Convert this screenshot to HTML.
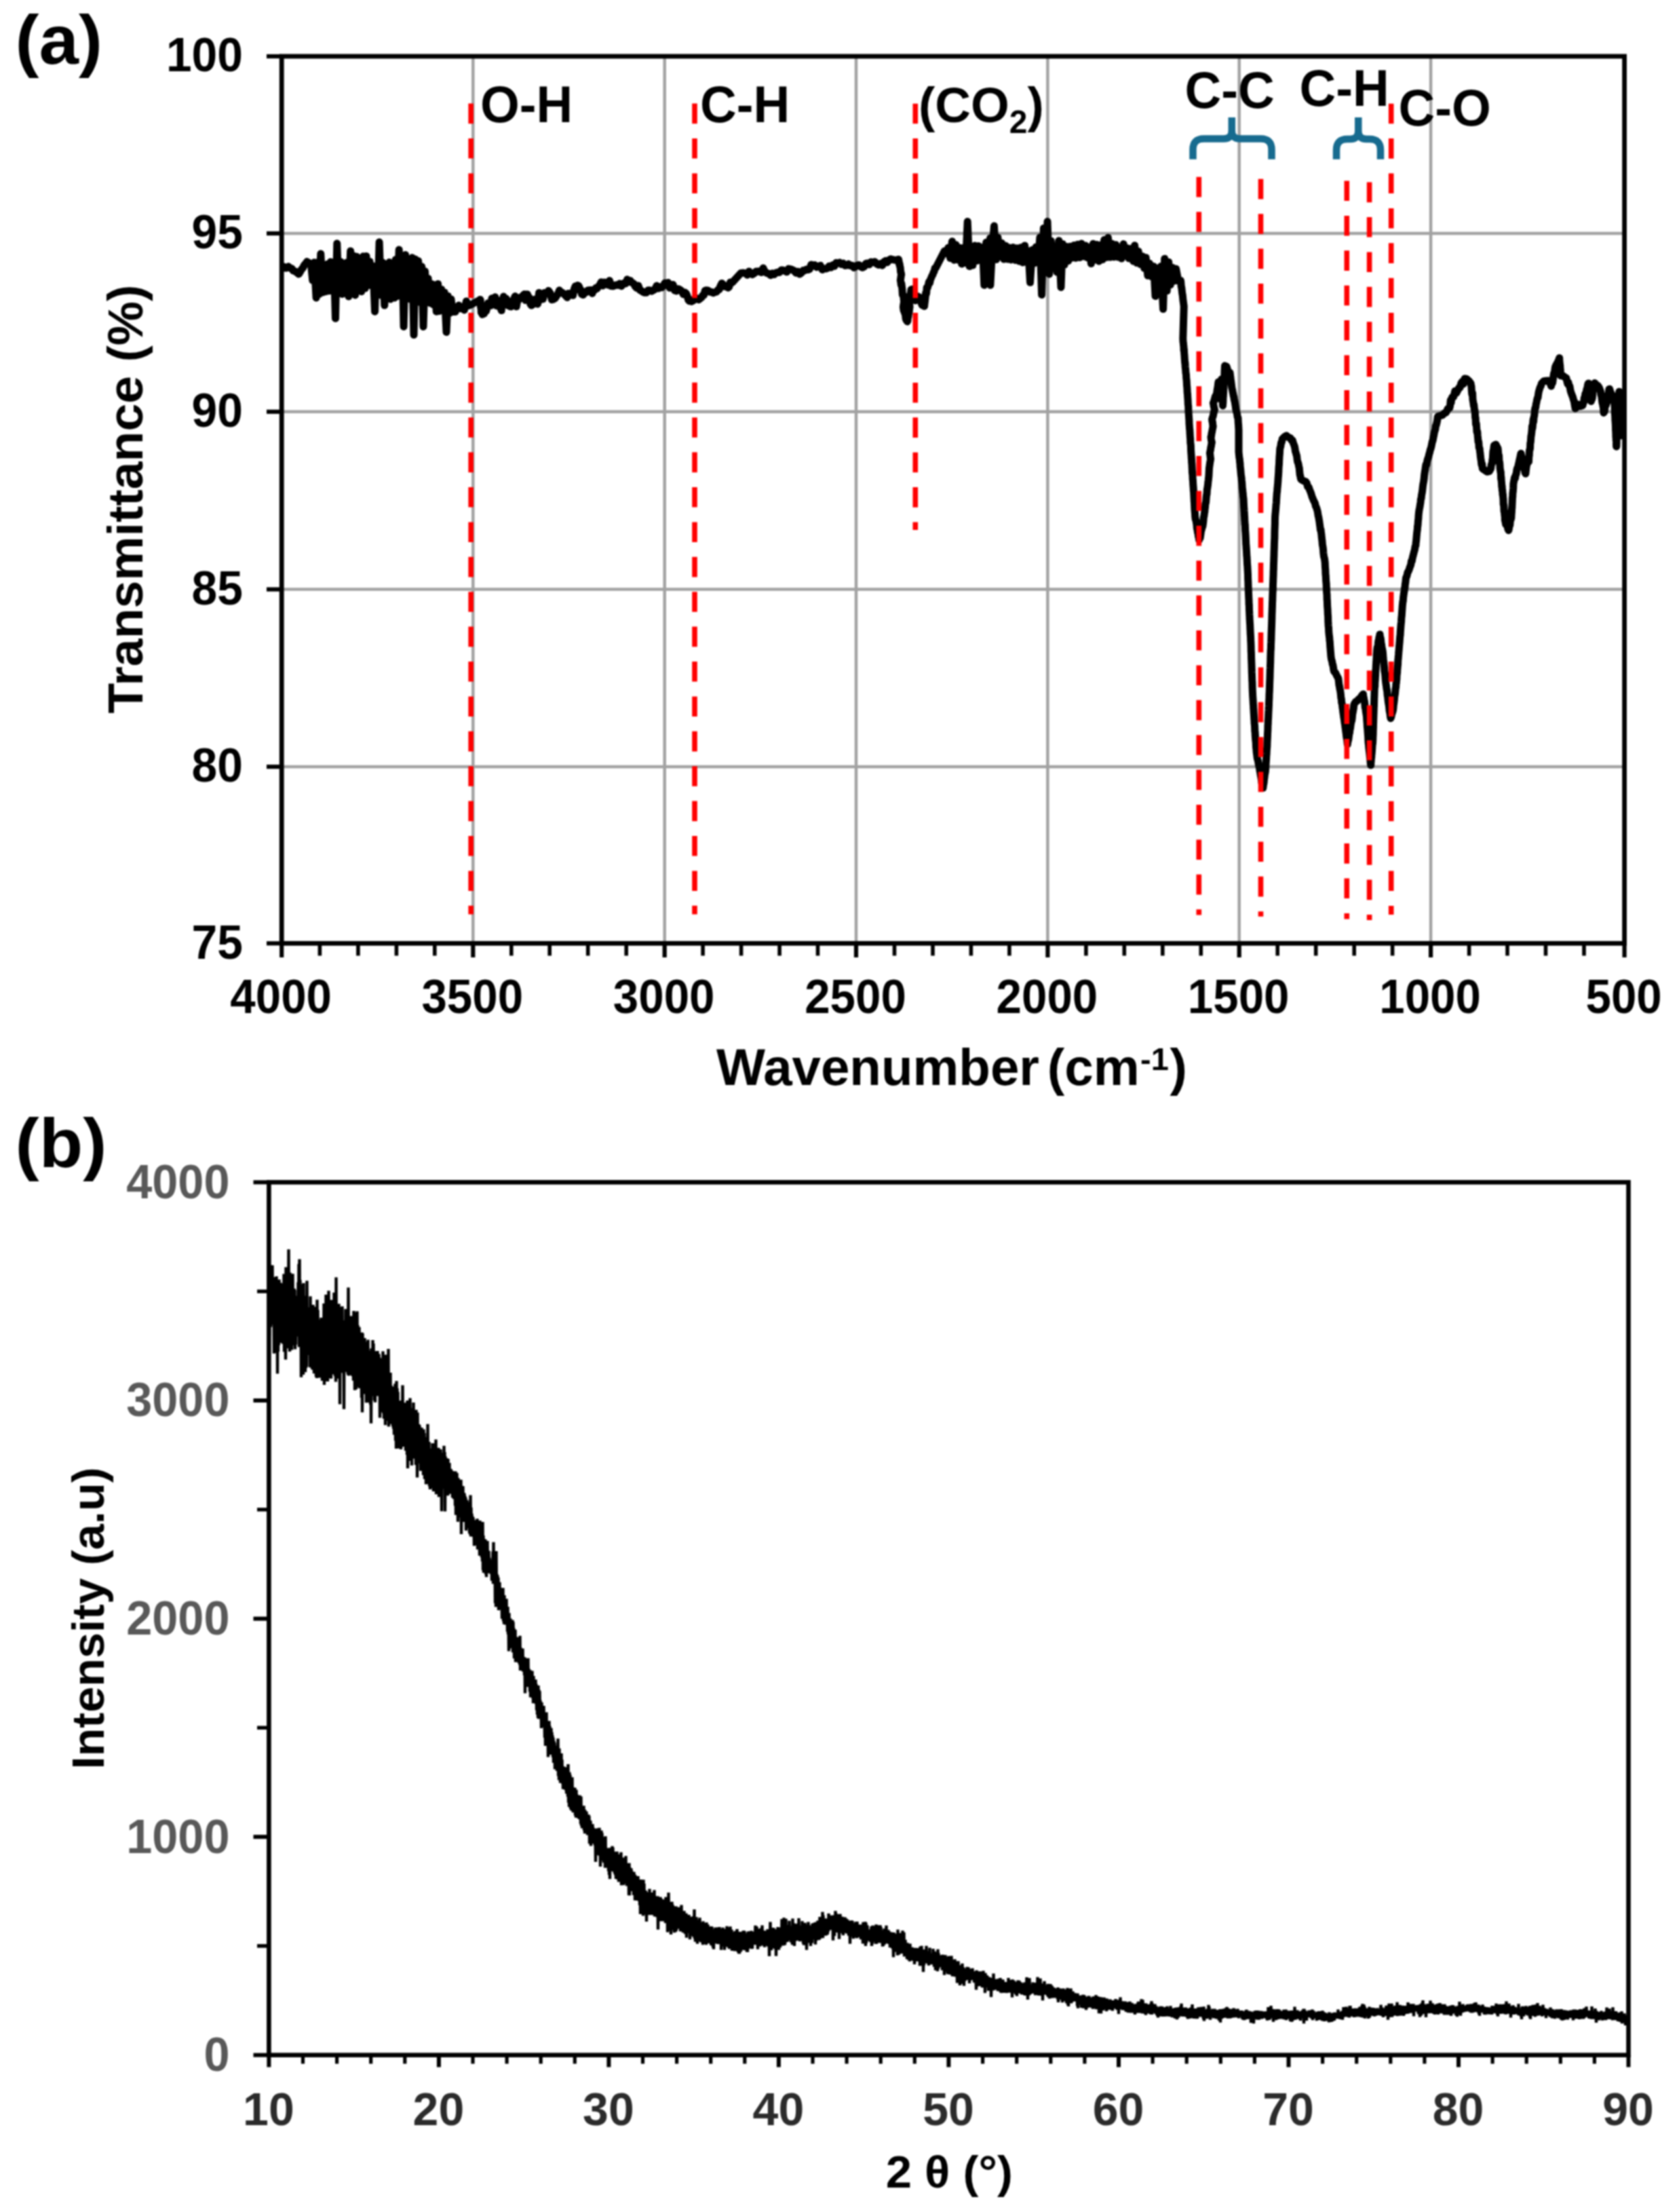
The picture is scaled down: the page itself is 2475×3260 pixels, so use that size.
<!DOCTYPE html>
<html lang="en">
<head>
<meta charset="utf-8">
<title>FTIR and XRD</title>
<style>
html,body{margin:0;padding:0;background:#fff;}
body{width:2475px;height:3260px;overflow:hidden;}
svg{display:block;filter:blur(1.1px);}
text{font-family:"Liberation Sans",sans-serif;font-weight:700;}
.k{fill:#000;}
.g{fill:#595959;}
.d{fill:#2b2b2b;}
</style>
</head>
<body>
<svg width="2475" height="3260" viewBox="0 0 2475 3260">
<rect x="0" y="0" width="2475" height="3260" fill="#fff"/>

<g id="chart-a">
<g stroke="#a2a2a2" stroke-width="4.5" fill="none">
<line x1="697.3" y1="83.0" x2="697.3" y2="1390.3"/>
<line x1="979.7" y1="83.0" x2="979.7" y2="1390.3"/>
<line x1="1262.0" y1="83.0" x2="1262.0" y2="1390.3"/>
<line x1="1544.4" y1="83.0" x2="1544.4" y2="1390.3"/>
<line x1="1826.7" y1="83.0" x2="1826.7" y2="1390.3"/>
<line x1="2109.1" y1="83.0" x2="2109.1" y2="1390.3"/>
<line x1="415.2" y1="344.0" x2="2394.6" y2="344.0"/>
<line x1="415.2" y1="606.8" x2="2394.6" y2="606.8"/>
<line x1="415.2" y1="868.6" x2="2394.6" y2="868.6"/>
<line x1="415.2" y1="1130.0" x2="2394.6" y2="1130.0"/>
</g>
<path d="M418.5 394.4L418.5 393.1L418.5 394.8L421.6 395.1L425.2 392.8L427.6 395.2L429.9 395.6L432.3 398.9L435.0 399.9L437.7 401.7L440.4 403.9L442.4 400.8L444.4 397.2L446.5 394.8L448.5 390.8L450.5 388.4L452.5 385.7L457.6 388.7L458.7 392.1L460.8 413.2L463.2 386.8L466.1 438.9L468.0 386.8L470.7 433.4L472.8 374.0L475.6 431.0L477.7 393.6L479.9 429.7L482.5 389.3L485.1 428.8L487.4 385.9L489.7 429.0L492.2 389.8L494.5 469.3L496.8 358.8L499.2 432.3L502.0 385.7L504.2 433.5L506.6 392.6L509.0 427.4L511.0 387.0L513.8 436.9L516.7 369.9L518.3 428.0L521.1 377.1L523.6 434.9L526.0 378.3L528.0 427.1L530.5 382.3L532.7 429.7L535.4 377.8L538.1 425.0L540.0 377.4L542.1 420.3L545.0 385.4L547.6 421.1L549.7 391.9L552.6 459.2L554.5 393.9L557.0 434.3L559.1 356.8L561.7 435.2L564.4 387.0L566.8 450.1L569.3 389.7L571.5 436.3L573.9 386.6L575.7 440.9L578.4 388.6L581.6 438.9L583.2 382.6L585.9 436.4L588.2 367.9L590.7 432.7L593.0 383.7L595.1 481.4L597.6 375.5L600.3 436.1L602.5 384.1L604.5 441.0L607.5 379.7L610.0 493.6L612.4 382.1L614.8 442.3L616.6 384.4L619.8 445.9L621.7 392.8L624.0 481.4L626.5 399.8L628.8 442.6L631.1 410.4L633.8 446.7L636.2 418.4L638.5 448.9L641.0 420.1L643.3 459.2L645.6 418.5L648.0 458.4L650.7 426.6L652.6 457.5L655.2 430.9L658.0 489.5L660.2 436.2L662.7 461.3L665.0 440.9L667.1 459.3L671.2 459.6L673.8 453.0L676.3 450.1L678.8 454.8L681.4 453.5L684.4 456.9L687.4 443.9L690.5 450.5L693.5 449.5L707.4 442.0L707.8 441.4L708.2 442.2L708.6 453.0L709.0 449.1L709.4 460.8L709.8 452.7L710.2 460.4L710.6 460.0L711.0 463.4L712.4 458.0L713.8 462.2L715.2 456.9L716.6 458.4L718.0 453.4L719.4 446.7L720.8 449.3L722.2 448.1L723.6 450.3L725.0 439.8L726.5 442.0L728.2 443.7L729.9 437.8L731.6 450.6L733.3 444.5L735.0 443.0L736.7 452.9L738.4 455.1L739.2 457.6L740.0 442.9L740.8 442.3L741.5 441.3L742.3 437.0L743.1 439.6L744.5 443.3L745.9 439.8L747.3 442.2L748.7 450.2L750.1 446.0L751.5 451.5L753.4 451.9L755.4 443.8L757.3 441.1L759.3 436.6L761.2 451.9L763.2 440.3L765.1 441.3L767.1 438.4L769.0 437.6L771.0 435.5L772.9 433.6L772.9 433.6L774.4 442.4L775.9 433.8L777.4 433.8L778.9 437.7L780.4 438.5L781.8 447.9L783.3 450.1L784.8 449.1L786.8 444.1L788.7 441.1L790.7 443.3L792.6 448.1L794.6 431.4L796.5 441.9L798.5 434.6L800.4 440.7L802.4 431.6L804.3 432.9L806.3 432.4L808.6 428.4L811.0 431.8L813.4 441.7L815.8 441.1L818.2 439.6L820.3 436.5L822.5 433.1L824.6 427.8L826.8 431.5L828.9 431.3L830.7 432.9L832.5 434.5L834.3 436.3L836.0 438.4L837.8 432.4L839.5 434.2L841.2 432.3L842.9 435.1L844.6 435.2L846.4 426.0L848.1 421.7L849.8 422.3L851.5 420.5L852.7 421.0L853.9 423.1L855.1 428.2L856.3 427.3L857.5 433.6L859.6 434.6L861.8 430.9L863.9 431.0L866.1 428.2L868.2 427.7L870.6 427.4L873.0 432.4L874.8 427.0L876.5 427.6L878.3 424.5L880.1 425.3L881.9 422.5L883.7 420.5L886.2 415.7L888.6 421.0L891.1 416.0L893.6 418.7L896.1 419.9L898.5 413.6L901.0 421.5L903.5 421.8L906.0 420.8L908.4 419.9L910.9 420.2L913.4 418.1L915.9 421.7L918.0 419.4L920.2 417.0L922.4 417.9L924.6 411.8L926.8 415.6L929.0 413.4L930.7 416.0L932.5 417.0L934.3 418.1L936.1 421.7L936.1 421.7L938.5 424.6L940.9 420.9L943.3 427.6L945.6 428.7L948.0 430.3L950.4 431.3L952.9 431.2L955.4 427.8L957.9 427.8L960.5 429.1L963.0 427.7L965.5 426.2L968.0 421.1L970.5 425.1L973.0 422.9L975.4 423.7L977.8 421.4L980.2 417.0L982.6 419.2L984.9 416.6L987.3 424.3L989.7 423.4L992.1 419.4L994.5 428.1L996.9 428.9L999.5 425.8L1002.1 426.7L1004.7 428.8L1007.3 433.8L1010.0 431.3L1011.5 432.5L1013.1 436.3L1014.7 442.0L1016.3 443.8L1017.9 441.9L1019.5 444.4L1022.1 442.8L1024.7 439.4L1027.3 439.8L1030.0 441.6L1032.6 439.6L1034.3 438.2L1035.9 435.1L1037.6 434.8L1039.3 428.2L1040.9 427.7L1043.5 427.9L1046.1 430.2L1048.7 430.3L1051.3 431.8L1053.8 430.6L1056.4 430.1L1058.3 427.2L1060.2 426.6L1062.1 421.2L1064.0 417.5L1065.9 419.3L1068.3 422.3L1070.7 422.4L1073.1 424.1L1074.8 422.8L1076.5 415.9L1078.3 417.0L1080.0 415.8L1092.2 402.4L1095.3 402.1L1098.5 402.6L1101.7 405.3L1104.2 400.0L1106.8 403.0L1109.3 404.6L1111.9 402.8L1114.5 400.0L1117.0 400.3L1119.6 399.5L1122.3 401.5L1125.0 395.0L1127.7 400.7L1130.5 402.5L1133.2 403.3L1135.9 405.8L1138.6 402.8L1141.3 404.4L1143.9 402.0L1146.6 401.2L1149.2 401.4L1151.9 398.0L1154.5 398.3L1157.1 399.4L1159.8 400.8L1162.4 396.1L1165.2 396.6L1167.9 397.7L1170.6 399.0L1173.3 402.2L1176.1 400.2L1178.8 404.1L1181.5 402.0L1183.9 398.6L1186.3 398.6L1188.6 397.1L1191.0 397.6L1193.4 396.6L1195.8 390.0L1198.2 391.5L1201.0 390.5L1203.7 393.7L1206.5 392.5L1209.3 391.5L1212.1 397.4L1214.9 396.1L1217.4 396.1L1219.9 395.1L1222.4 392.2L1225.0 394.2L1227.5 390.6L1230.0 392.3L1232.6 387.3L1235.1 388.1L1237.7 386.9L1240.3 389.5L1243.0 388.1L1245.6 391.4L1248.2 391.0L1250.8 389.2L1253.4 391.6L1256.1 391.3L1258.7 394.3L1261.3 392.9L1263.8 390.9L1266.3 390.5L1268.9 393.0L1271.4 394.3L1273.9 393.1L1276.4 388.5L1278.9 388.0L1281.4 389.9L1283.9 386.0L1286.7 386.7L1289.5 385.8L1292.3 388.9L1295.1 390.4L1297.8 388.7L1300.6 391.2L1303.0 386.0L1305.4 384.5L1307.8 386.8L1310.1 383.5L1313.0 381.8L1315.9 382.7L1318.7 383.2L1321.6 383.7L1324.4 382.2L1325.0 384.4L1325.5 388.9L1326.1 388.9L1326.6 392.8L1327.1 394.3L1327.7 401.4L1328.2 401.9L1328.7 404.8L1328.3 406.1L1327.8 409.7L1327.3 413.2L1327.8 415.4L1328.3 420.0L1328.9 418.1L1329.4 421.9L1329.9 425.9L1330.4 434.5L1330.9 434.0L1331.5 434.6L1332.0 439.0L1332.5 444.3L1333.0 442.9L1332.5 445.7L1331.9 448.6L1331.4 452.5L1332.1 457.6L1332.9 458.8L1333.7 461.9L1334.4 462.2L1335.2 469.7L1336.0 472.0L1336.8 472.4L1337.5 473.9L1338.0 472.6L1338.4 464.5L1338.9 467.1L1339.3 462.8L1339.8 461.4L1340.2 459.2L1340.7 454.5L1341.1 452.5L1340.5 446.3L1339.8 447.6L1339.2 444.1L1340.0 440.1L1340.8 438.4L1341.6 435.3L1342.3 433.2L1343.1 426.8L1343.9 431.3L1344.7 426.3L1345.3 429.7L1345.8 434.4L1346.4 439.1L1347.0 438.1L1347.6 441.0L1347.0 434.7L1346.4 433.8L1345.9 432.9L1346.8 433.0L1347.7 436.9L1348.6 440.6L1349.5 442.9L1352.4 436.6L1355.4 438.2L1356.4 441.7L1357.3 440.9L1358.3 447.3L1359.2 449.6L1362.6 451.3L1362.9 448.3L1363.3 445.2L1363.6 442.9L1364.0 439.2L1364.3 436.4L1364.7 431.5L1365.1 432.0L1365.4 433.1L1365.8 430.6L1366.1 423.9L1367.2 424.1L1368.3 420.5L1369.4 415.4L1370.5 417.2L1371.6 411.9L1372.7 409.5L1373.8 406.6L1374.9 405.0L1376.0 401.6L1377.1 399.9L1378.1 395.5L1379.2 395.3L1392.2 369.9L1395.1 373.4L1397.8 365.1L1400.7 380.5L1403.5 355.7L1406.5 383.2L1409.0 360.8L1412.2 383.1L1414.7 365.2L1417.7 389.0L1420.6 365.2L1423.5 387.4L1426.2 326.5L1429.0 392.5L1431.9 367.8L1433.9 391.0L1436.9 361.9L1440.2 384.3L1442.2 362.6L1445.6 382.7L1448.4 364.6L1450.8 420.3L1453.7 357.2L1456.9 388.5L1459.6 350.9L1459.9 420.3L1462.6 368.3L1465.4 333.1L1468.5 382.4L1470.9 349.9L1474.0 378.2L1476.5 358.2L1479.8 382.1L1482.4 362.2L1485.5 382.0L1487.5 365.0L1490.3 382.9L1493.5 364.6L1496.8 383.4L1498.9 365.7L1502.3 384.9L1504.8 364.7L1507.6 386.9L1510.6 361.9L1513.0 386.6L1515.9 370.0L1518.5 416.3L1521.6 368.3L1524.9 387.8L1527.1 364.1L1530.1 387.3L1532.9 349.8L1535.6 434.6L1538.4 336.3L1541.5 393.6L1544.0 326.5L1546.7 404.0L1549.2 354.9L1552.7 390.0L1555.4 364.9L1558.1 401.2L1560.8 354.8L1564.0 423.4L1566.4 359.5L1569.1 390.1L1572.2 363.4L1574.7 384.6L1577.6 363.2L1580.3 380.0L1583.2 361.5L1585.6 380.3L1588.6 360.2L1591.4 379.5L1594.1 359.0L1597.1 377.9L1600.1 362.0L1602.6 379.7L1606.1 364.2L1608.4 388.4L1611.3 359.2L1613.7 383.1L1616.6 360.5L1620.0 385.0L1622.6 361.1L1625.2 382.5L1627.7 353.4L1631.2 379.3L1633.4 350.3L1636.3 379.1L1639.2 359.2L1642.1 378.8L1644.8 360.8L1647.6 378.9L1650.9 364.7L1653.2 381.0L1656.1 359.6L1658.5 375.4L1661.8 365.7L1664.0 380.8L1667.1 366.4L1670.6 385.0L1672.6 361.8L1675.6 387.4L1678.1 370.5L1680.9 389.5L1684.3 377.8L1686.7 395.3L1689.2 379.7L1691.9 406.3L1694.4 388.1L1697.6 407.7L1700.7 392.6L1703.0 436.5L1706.1 395.5L1709.1 418.9L1711.3 392.4L1714.6 455.6L1716.7 381.3L1720.2 428.6L1722.7 386.3L1725.3 419.7L1728.4 394.5L1731.0 414.0L1733.6 396.2L1737.1 414.3L1740.4 413.4L1740.8 416.2L1741.2 422.0L1741.6 422.9L1742.0 425.9L1742.4 429.8L1742.8 433.2L1743.2 434.5L1743.6 438.6L1744.0 442.9L1744.4 445.4L1744.8 448.5L1745.2 451.5L1743.8 499.1L1744.1 504.4L1744.3 504.4L1744.6 508.6L1744.9 510.8L1745.1 516.7L1745.4 515.0L1745.6 519.9L1745.9 523.2L1746.2 528.0L1746.4 531.0L1746.7 535.3L1746.9 534.2L1747.2 540.6L1747.4 542.2L1747.7 544.8L1748.0 549.6L1748.2 550.7L1748.5 552.1L1748.7 557.6L1749.0 559.2L1749.3 563.5L1749.5 568.0L1749.8 570.6L1750.0 574.1L1750.2 579.0L1750.4 579.5L1750.5 580.7L1750.7 584.9L1750.9 587.7L1751.1 590.4L1751.3 595.8L1751.5 597.4L1751.7 598.6L1751.9 605.4L1752.1 607.3L1752.3 611.1L1752.5 613.8L1752.7 617.6L1752.9 619.8L1753.0 624.6L1753.2 626.5L1753.4 629.5L1753.6 632.6L1753.8 633.1L1754.0 638.0L1754.2 640.9L1754.4 644.7L1754.6 645.5L1754.8 652.8L1755.0 653.7L1755.2 655.0L1755.4 657.3L1755.5 662.4L1755.7 665.9L1755.9 668.8L1756.1 671.0L1756.3 675.2L1756.5 677.3L1756.7 682.0L1756.9 683.3L1757.1 687.3L1757.3 691.8L1757.5 697.2L1757.7 695.2L1757.8 699.0L1758.0 701.6L1758.2 706.9L1758.4 707.3L1758.6 711.3L1758.8 715.0L1759.0 716.8L1759.2 719.9L1759.4 723.6L1759.6 724.4L1759.8 728.4L1760.0 732.9L1760.2 736.8L1760.3 739.4L1760.5 740.3L1760.7 745.2L1760.9 750.0L1761.1 752.7L1761.3 754.9L1761.5 756.9L1761.7 761.2L1762.2 765.2L1762.8 766.6L1763.3 769.0L1763.9 772.6L1764.4 778.9L1764.9 780.3L1765.5 784.8L1766.0 785.6L1766.6 790.8L1767.1 791.7L1767.6 795.7L1768.4 792.4L1769.1 793.0L1769.9 787.4L1770.6 782.5L1771.4 780.0L1772.1 777.4L1772.9 775.5L1773.6 770.7L1774.0 767.0L1774.3 762.3L1774.7 761.3L1775.1 758.7L1775.4 755.8L1775.8 754.5L1776.1 750.1L1776.5 747.8L1776.9 742.1L1777.2 741.9L1777.6 740.6L1778.0 735.7L1778.3 732.0L1778.7 728.9L1779.0 728.2L1779.4 721.3L1779.8 719.5L1780.1 717.3L1780.5 714.7L1780.9 710.0L1781.2 708.1L1781.6 704.2L1781.9 701.6L1782.5 690.0L1782.9 687.3L1783.3 684.3L1783.8 680.7L1784.2 678.8L1784.6 676.0L1784.2 674.0L1783.8 669.9L1783.4 668.0L1783.9 665.1L1784.4 663.2L1784.9 659.1L1785.4 657.5L1785.9 653.8L1786.4 652.0L1785.9 650.2L1785.5 648.5L1785.0 644.0L1785.5 643.0L1786.1 638.5L1786.6 636.6L1787.1 633.4L1787.7 630.7L1788.2 628.0L1787.8 626.7L1787.4 621.9L1787.0 621.3L1786.6 618.0L1787.4 615.2L1788.1 613.5L1788.9 609.7L1789.6 606.3L1790.4 604.0L1789.9 601.7L1789.4 599.6L1788.9 596.5L1788.4 594.0L1789.4 591.6L1790.4 588.0L1791.5 583.9L1792.5 583.5L1793.5 580.0L1793.9 577.7L1794.3 574.5L1794.8 571.6L1795.2 569.5L1795.6 565.5L1796.0 563.0L1796.2 564.9L1796.5 567.8L1796.8 571.5L1797.0 571.9L1797.2 576.5L1797.5 577.5L1797.8 579.6L1798.0 584.0L1798.2 585.4L1798.5 588.0L1798.7 584.3L1798.9 582.4L1799.0 580.8L1799.2 578.4L1799.4 574.5L1799.6 572.5L1799.8 570.1L1800.0 566.4L1800.1 564.6L1800.3 561.6L1800.5 559.0L1800.6 561.2L1800.8 563.8L1800.9 566.9L1801.0 569.4L1801.2 571.5L1801.3 574.3L1801.4 578.1L1801.6 580.0L1801.7 583.1L1801.8 586.0L1802.0 588.1L1802.1 592.0L1802.2 592.1L1802.4 596.0L1802.5 598.0L1802.6 595.2L1802.8 594.4L1802.9 591.8L1803.0 586.3L1803.2 584.6L1803.3 583.3L1803.4 580.9L1803.6 578.3L1803.7 575.1L1803.8 573.0L1804.0 570.7L1804.1 567.5L1804.2 565.9L1804.4 560.7L1804.5 560.0L1804.6 557.9L1804.8 553.9L1804.9 552.9L1805.0 549.3L1805.1 546.2L1805.2 544.5L1805.4 540.9L1805.5 539.0L1808.0 540.0L1808.8 542.3L1809.5 544.7L1810.2 549.0L1811.0 552.0L1813.0 549.0L1813.3 552.0L1813.7 554.9L1814.0 556.6L1814.3 560.1L1814.7 561.8L1815.0 564.3L1815.3 567.3L1815.7 570.3L1816.0 572.0L1816.6 574.5L1817.1 577.3L1817.7 580.1L1818.2 583.1L1818.8 585.0L1819.4 589.3L1819.9 590.9L1820.5 594.0L1820.9 596.9L1821.2 598.3L1821.6 601.8L1822.0 604.0L1822.8 607.3L1823.5 609.7L1824.2 614.6L1825.0 616.0L1825.1 618.9L1825.3 622.6L1825.4 624.5L1825.6 625.8L1825.7 628.6L1825.9 631.8L1826.0 634.0L1826.0 665.9L1826.3 669.1L1826.6 672.1L1826.9 674.9L1827.3 676.5L1827.6 681.2L1827.9 682.3L1828.2 688.0L1828.5 690.0L1828.8 693.1L1829.1 696.7L1829.4 700.3L1829.7 701.7L1830.1 704.5L1830.4 708.3L1830.7 710.5L1831.0 714.6L1831.3 720.3L1831.6 720.8L1831.9 725.6L1832.2 726.7L1832.5 731.4L1832.9 733.9L1833.2 737.4L1833.3 740.4L1833.5 744.1L1833.7 748.4L1833.9 750.0L1834.0 753.0L1834.2 755.0L1834.4 759.7L1834.6 762.0L1834.7 766.2L1834.9 768.4L1835.1 773.3L1835.3 772.7L1835.5 777.5L1835.6 781.7L1835.8 783.6L1836.0 786.3L1836.2 789.9L1836.3 791.9L1836.5 796.5L1836.7 801.9L1836.9 803.8L1837.0 804.6L1837.2 808.8L1837.4 811.0L1837.6 814.6L1837.8 819.1L1838.0 820.3L1838.2 823.5L1838.4 828.2L1838.5 831.2L1838.7 833.0L1838.9 835.4L1839.1 839.6L1839.2 841.1L1839.4 845.1L1839.5 846.7L1839.6 852.8L1839.7 854.6L1839.9 858.8L1840.0 863.4L1840.1 865.8L1840.2 866.6L1840.4 871.8L1840.5 875.2L1840.6 876.4L1840.7 879.4L1840.9 883.3L1841.0 885.0L1841.1 891.2L1841.3 890.4L1841.4 894.9L1841.5 899.1L1841.7 902.0L1841.8 905.2L1842.0 908.8L1842.1 912.1L1842.3 914.8L1842.5 919.3L1842.6 919.2L1842.8 924.5L1842.9 927.0L1843.1 931.0L1843.2 934.3L1843.4 936.3L1843.6 939.8L1843.7 944.4L1843.9 946.8L1844.0 950.2L1844.1 952.3L1844.2 958.1L1844.3 961.5L1844.4 960.8L1844.5 965.7L1844.6 971.0L1844.7 972.4L1844.8 975.0L1844.9 977.6L1845.0 980.4L1845.1 983.8L1845.2 986.6L1845.3 991.0L1845.4 993.0L1845.5 996.0L1845.6 998.4L1845.7 1002.7L1845.9 1004.9L1846.0 1008.7L1846.1 1013.1L1846.2 1015.5L1846.3 1018.2L1846.5 1021.9L1846.6 1024.9L1846.8 1027.7L1847.0 1030.6L1847.2 1033.6L1847.4 1037.8L1847.6 1039.1L1847.8 1044.7L1848.0 1046.5L1848.1 1048.8L1848.3 1052.2L1848.5 1055.2L1848.7 1059.1L1848.9 1061.4L1849.1 1066.4L1849.3 1067.6L1849.5 1069.3L1849.7 1073.9L1849.8 1077.8L1850.1 1078.9L1850.3 1084.0L1850.6 1088.1L1850.8 1090.8L1851.0 1091.9L1851.3 1095.6L1851.5 1101.3L1851.7 1102.9L1852.0 1105.7L1852.2 1108.8L1852.8 1112.9L1853.3 1117.3L1853.8 1119.2L1854.4 1121.0L1854.9 1124.3L1855.5 1127.6L1856.0 1129.4L1856.6 1132.0L1857.1 1136.1L1857.6 1138.1L1858.2 1142.1L1858.8 1145.2L1859.4 1148.6L1860.0 1154.0L1860.6 1154.0L1861.2 1157.9L1861.8 1161.2L1862.2 1158.0L1862.6 1155.7L1863.1 1153.3L1863.5 1148.8L1864.0 1145.5L1864.4 1141.7L1864.9 1139.4L1865.3 1137.4L1865.5 1134.6L1865.8 1130.9L1866.0 1126.6L1866.2 1124.0L1866.4 1121.1L1866.6 1118.4L1866.8 1114.0L1867.1 1111.1L1867.3 1106.3L1867.5 1103.7L1867.7 1101.6L1867.8 1100.1L1868.0 1093.3L1868.1 1092.0L1868.2 1089.5L1868.4 1085.8L1868.5 1082.3L1868.6 1079.9L1868.8 1076.9L1868.9 1073.7L1869.0 1068.9L1869.2 1067.5L1869.3 1063.7L1869.4 1060.9L1869.6 1058.6L1869.7 1055.9L1869.8 1053.1L1870.0 1048.6L1870.1 1047.0L1870.2 1044.1L1870.4 1041.0L1870.5 1038.2L1870.6 1033.5L1870.8 1030.4L1870.9 1028.3L1871.0 1023.0L1871.1 1021.5L1871.3 1018.2L1871.4 1014.6L1871.5 1011.7L1871.6 1007.2L1871.7 1004.9L1871.8 1002.7L1871.9 1000.5L1872.0 997.5L1872.1 993.3L1872.2 990.1L1872.3 986.3L1872.4 984.5L1872.5 980.7L1872.6 978.4L1872.7 976.5L1872.8 971.6L1872.9 967.0L1873.0 964.5L1873.1 960.8L1873.2 958.0L1873.4 957.4L1873.5 953.2L1873.6 948.4L1873.7 946.8L1873.8 944.3L1873.9 941.8L1874.0 937.1L1874.1 933.7L1874.2 930.9L1874.3 928.4L1874.4 925.7L1874.5 923.1L1874.6 920.0L1874.7 916.9L1874.8 913.9L1874.9 910.1L1875.0 904.8L1875.1 903.1L1875.2 900.5L1875.3 896.7L1875.4 894.9L1875.5 890.5L1875.6 886.8L1875.7 886.1L1875.8 882.2L1875.9 878.6L1876.0 875.3L1876.1 873.1L1876.3 870.1L1876.4 866.3L1876.5 860.4L1876.6 859.1L1876.7 856.2L1876.8 852.6L1876.9 850.6L1877.0 848.5L1877.1 843.7L1877.2 840.0L1877.3 840.0L1877.4 834.4L1877.5 830.6L1877.6 828.9L1877.7 826.0L1877.8 821.8L1877.9 820.2L1878.0 815.8L1878.1 812.2L1878.2 810.2L1878.3 807.7L1878.4 803.8L1878.5 800.1L1878.6 798.1L1878.7 794.6L1878.8 794.5L1878.9 787.9L1878.9 786.9L1879.0 782.4L1879.1 779.3L1879.2 777.1L1879.3 774.3L1879.4 771.6L1879.4 767.6L1879.5 763.6L1879.6 761.2L1879.9 757.5L1880.1 755.4L1880.4 752.4L1880.6 750.0L1880.9 745.9L1881.1 743.4L1881.4 740.8L1881.6 736.3L1881.9 731.5L1882.1 728.7L1882.4 725.3L1882.6 725.2L1882.9 719.6L1883.1 718.5L1883.4 714.7L1883.6 712.7L1883.9 708.9L1884.1 704.7L1884.4 701.6L1884.6 698.3L1884.8 695.5L1884.9 692.4L1885.1 688.6L1885.3 686.0L1885.5 684.5L1885.7 678.1L1885.8 677.0L1886.0 672.7L1886.2 670.7L1886.4 668.2L1886.6 664.2L1886.8 661.1L1887.7 658.3L1888.6 652.4L1889.4 651.5L1890.3 646.8L1893.3 643.8L1896.3 642.1L1899.3 644.5L1902.3 645.6L1903.7 648.8L1905.2 649.0L1906.7 653.8L1908.2 657.5L1908.9 660.8L1909.5 665.2L1910.2 667.0L1910.9 670.0L1911.5 671.4L1912.2 677.2L1912.8 680.7L1913.5 681.9L1914.2 684.9L1914.7 687.8L1915.2 689.5L1915.7 695.0L1916.2 699.9L1916.7 701.0L1917.2 704.6L1917.7 706.4L1921.3 708.7L1924.9 710.0L1926.3 712.1L1927.7 717.5L1929.2 718.0L1930.6 722.1L1932.0 725.4L1933.1 728.6L1934.1 732.2L1935.2 734.6L1936.3 737.5L1937.3 739.2L1938.4 741.6L1939.4 745.9L1940.5 748.0L1941.6 751.6L1942.1 753.4L1942.6 756.4L1943.2 760.3L1943.7 761.9L1944.3 765.5L1944.8 768.2L1945.4 773.1L1945.9 776.3L1946.4 780.9L1947.0 780.5L1947.5 785.0L1947.9 787.6L1948.3 792.4L1948.6 794.5L1949.0 797.7L1949.4 803.0L1949.7 804.2L1950.1 806.6L1950.5 809.7L1950.8 814.6L1951.2 817.8L1951.6 820.7L1952.3 822.8L1953.0 827.6L1953.2 829.8L1953.4 834.5L1953.6 837.8L1953.8 839.7L1953.9 844.2L1954.1 847.3L1954.3 848.1L1954.5 852.7L1954.7 856.7L1954.9 858.8L1955.1 860.4L1955.3 865.5L1955.5 869.7L1955.7 873.7L1955.9 875.3L1956.0 876.3L1956.2 884.3L1956.3 883.7L1956.5 889.0L1956.6 892.4L1956.8 895.3L1957.0 897.7L1957.1 899.5L1957.3 904.5L1957.4 906.3L1957.6 907.7L1957.8 916.2L1957.9 917.3L1958.1 921.6L1958.2 922.9L1958.5 925.1L1958.7 930.5L1959.0 933.7L1959.3 936.7L1959.5 938.2L1959.8 940.1L1960.0 944.2L1960.3 945.2L1960.5 948.8L1960.8 953.7L1961.0 955.6L1961.3 959.5L1961.6 962.7L1961.8 965.8L1962.4 970.7L1963.0 973.1L1963.6 974.7L1964.2 978.9L1964.8 979.9L1965.4 983.4L1966.0 987.6L1966.6 989.6L1968.6 991.6L1970.5 995.7L1972.5 999.2L1973.0 1001.0L1973.5 1005.5L1974.0 1010.1L1974.4 1010.8L1974.9 1014.9L1975.4 1016.9L1975.9 1019.7L1976.3 1022.7L1976.8 1028.5L1977.3 1030.1L1977.7 1035.5L1978.1 1036.6L1978.5 1038.4L1978.9 1042.8L1979.3 1044.7L1979.7 1048.8L1980.1 1051.3L1980.5 1054.3L1980.9 1057.6L1981.3 1059.3L1981.7 1062.5L1982.1 1065.9L1982.5 1067.3L1982.9 1071.6L1983.3 1073.8L1983.8 1078.1L1984.2 1080.4L1984.6 1084.6L1985.1 1088.0L1985.5 1089.2L1985.9 1092.9L1986.3 1096.9L1986.9 1092.8L1987.4 1091.4L1987.9 1089.3L1988.4 1085.3L1989.0 1081.0L1989.5 1079.7L1990.0 1073.7L1990.5 1073.6L1991.1 1068.3L1991.6 1065.9L1992.1 1059.9L1992.6 1062.2L1993.2 1057.9L1993.7 1052.1L1994.2 1050.2L1994.8 1046.6L1995.3 1043.8L1995.8 1039.0L1996.4 1037.3L1998.5 1034.2L2000.7 1033.0L2002.9 1030.4L2005.1 1029.0L2007.3 1025.5L2009.5 1023.0L2009.9 1028.4L2010.4 1028.5L2010.9 1032.6L2011.4 1033.5L2011.8 1037.2L2012.3 1042.9L2012.8 1043.7L2013.3 1048.3L2013.7 1050.8L2014.2 1054.0L2014.5 1056.1L2014.7 1060.0L2014.9 1063.0L2015.2 1066.2L2015.4 1070.6L2015.7 1073.7L2015.9 1075.6L2016.1 1078.5L2016.4 1082.8L2016.6 1085.6L2016.8 1089.9L2017.1 1094.7L2017.3 1096.1L2017.6 1098.4L2017.8 1101.6L2018.2 1104.7L2018.5 1107.3L2018.9 1110.5L2019.2 1113.7L2019.6 1117.6L2019.9 1120.8L2020.3 1125.3L2020.7 1127.8L2020.9 1124.3L2021.2 1121.3L2021.4 1117.1L2021.7 1116.8L2021.9 1112.5L2022.2 1110.6L2022.5 1106.4L2022.7 1103.9L2023.0 1099.0L2023.2 1096.8L2023.5 1095.6L2023.8 1089.7L2023.9 1085.4L2024.0 1084.7L2024.1 1082.1L2024.2 1077.7L2024.3 1074.9L2024.4 1072.3L2024.5 1067.3L2024.6 1065.3L2024.7 1060.9L2024.8 1057.9L2024.9 1054.9L2025.0 1052.3L2025.1 1049.5L2025.2 1046.7L2025.3 1041.6L2025.4 1042.0L2025.5 1038.1L2025.6 1034.5L2025.7 1030.3L2025.8 1027.5L2025.9 1025.0L2026.0 1021.8L2026.1 1018.2L2026.3 1013.4L2026.5 1012.7L2026.7 1011.8L2026.9 1003.8L2027.1 1003.6L2027.3 999.8L2027.5 996.2L2027.6 994.6L2027.8 988.8L2028.0 987.1L2028.2 985.3L2028.4 980.4L2028.6 977.1L2028.8 974.5L2029.0 970.8L2029.1 969.7L2029.3 964.0L2029.5 962.7L2029.7 958.7L2030.2 954.4L2030.8 953.4L2031.3 949.6L2031.9 944.1L2032.4 943.8L2032.9 939.7L2033.5 937.4L2034.0 934.9L2034.5 939.4L2035.0 939.7L2035.5 942.7L2036.0 948.2L2036.5 949.9L2037.0 954.3L2037.5 956.0L2038.0 958.7L2038.4 960.9L2038.7 965.0L2039.0 969.5L2039.3 972.4L2039.6 974.6L2040.0 977.8L2040.3 980.8L2040.6 983.5L2040.9 989.3L2041.2 990.5L2041.5 992.5L2041.9 996.3L2042.2 1000.7L2042.5 1003.8L2042.8 1006.3L2043.2 1009.2L2043.6 1011.6L2044.0 1015.3L2044.4 1016.5L2044.8 1019.9L2045.2 1025.0L2045.6 1026.7L2046.0 1030.5L2046.4 1034.4L2046.8 1036.8L2047.2 1039.1L2047.6 1042.1L2048.1 1047.6L2048.5 1049.4L2049.0 1051.7L2049.5 1056.2L2050.0 1058.7L2050.9 1056.2L2051.7 1051.9L2052.6 1049.9L2053.5 1046.8L2053.9 1043.5L2054.3 1038.6L2054.6 1037.3L2055.0 1034.1L2055.4 1030.8L2055.7 1026.4L2056.1 1024.7L2056.5 1021.9L2056.8 1018.9L2057.2 1014.5L2057.6 1013.2L2057.9 1008.2L2058.3 1006.3L2058.5 1003.0L2058.8 1001.4L2059.0 996.2L2059.3 993.3L2059.6 991.8L2059.8 987.1L2060.1 984.1L2060.3 981.5L2060.6 979.2L2060.8 972.7L2061.1 971.0L2061.3 967.7L2061.6 964.5L2061.8 961.6L2062.1 958.4L2062.3 956.5L2062.6 952.1L2062.8 950.0L2063.1 946.8L2063.3 944.0L2063.6 939.7L2063.8 937.5L2064.1 935.9L2064.3 931.4L2064.6 927.3L2064.8 924.8L2065.1 920.8L2065.3 918.8L2065.6 916.3L2065.8 911.4L2066.1 908.9L2066.3 907.2L2066.6 902.4L2066.8 899.9L2067.1 895.6L2067.3 892.6L2067.6 889.8L2067.8 887.2L2068.2 886.4L2068.6 880.8L2069.0 877.7L2069.4 874.7L2069.8 872.2L2070.2 870.0L2070.6 866.6L2071.0 865.4L2071.4 860.6L2071.8 858.9L2072.2 854.7L2072.6 851.5L2073.8 848.9L2075.0 843.7L2076.2 841.8L2077.4 838.7L2078.5 835.3L2079.7 832.4L2080.5 827.1L2081.3 826.9L2082.1 822.5L2082.9 819.3L2083.7 816.3L2084.5 813.1L2085.3 810.6L2086.1 805.7L2086.9 803.8L2087.2 799.9L2087.5 798.0L2087.8 794.9L2088.1 791.3L2088.4 788.1L2088.7 784.8L2089.0 782.5L2089.3 780.7L2089.6 775.4L2089.9 775.0L2090.2 771.3L2090.5 766.9L2090.8 765.1L2091.1 759.8L2091.4 756.5L2091.6 755.2L2092.1 751.0L2092.6 748.9L2093.1 746.0L2093.6 742.8L2094.0 740.4L2094.5 735.2L2095.0 734.9L2095.5 730.0L2095.9 727.8L2096.4 725.4L2096.8 722.1L2097.2 718.3L2097.6 715.1L2098.0 712.5L2098.4 710.5L2098.8 708.2L2099.2 705.2L2099.6 700.6L2100.0 697.9L2100.4 694.7L2100.8 693.1L2101.2 689.7L2102.0 684.7L2102.8 685.0L2103.6 680.3L2104.4 677.0L2105.1 675.2L2105.9 672.9L2106.7 669.2L2107.5 666.9L2108.3 663.0L2109.1 661.2L2109.9 658.2L2110.7 654.0L2111.4 650.8L2112.1 649.2L2112.9 644.8L2113.6 641.6L2114.3 637.5L2115.0 635.0L2115.7 632.9L2116.4 627.7L2117.1 626.6L2117.9 623.2L2118.6 620.0L2119.3 614.4L2120.0 613.5L2126.6 611.6L2129.1 608.9L2131.6 608.0L2134.2 602.4L2136.7 601.5L2137.5 598.5L2138.3 589.8L2139.1 593.3L2139.9 587.1L2140.8 585.3L2142.8 584.7L2144.8 576.2L2146.8 579.2L2148.9 575.2L2150.5 571.8L2152.2 571.2L2153.9 564.5L2155.6 562.3L2157.3 565.8L2159.0 558.0L2162.0 558.5L2165.1 561.1L2168.1 565.1L2168.5 567.5L2168.9 568.9L2169.4 576.8L2169.8 581.0L2170.2 578.7L2170.6 579.5L2171.0 588.9L2171.5 591.8L2171.9 594.2L2172.3 598.0L2172.7 596.6L2173.2 601.5L2173.5 604.3L2173.9 604.7L2174.3 607.7L2174.7 616.1L2175.1 615.6L2175.5 625.2L2175.9 623.5L2176.3 625.0L2176.7 631.3L2177.0 636.6L2177.4 636.8L2177.8 636.2L2178.2 642.0L2178.6 645.9L2179.0 651.1L2179.4 650.0L2179.8 652.5L2180.2 659.4L2180.6 660.5L2181.1 660.8L2181.5 665.5L2181.9 667.7L2182.3 672.4L2182.8 676.1L2183.3 678.7L2183.8 684.0L2184.3 686.1L2184.8 684.1L2185.3 690.6L2188.7 692.9L2192.1 695.3L2195.4 694.7L2196.4 692.6L2197.5 690.9L2198.5 684.3L2199.5 682.5L2199.9 677.1L2200.2 678.0L2200.6 670.3L2201.0 664.6L2201.4 668.3L2201.8 661.2L2202.1 658.8L2202.5 656.2L2205.1 655.1L2207.6 660.2L2208.0 660.6L2208.4 664.2L2208.8 669.2L2209.2 674.0L2209.6 671.4L2210.0 681.3L2210.4 680.3L2210.8 683.8L2211.2 690.9L2211.6 692.6L2211.9 695.6L2212.3 695.5L2212.6 706.0L2212.9 703.2L2213.2 708.8L2213.5 711.8L2213.8 717.6L2214.1 716.6L2214.4 722.9L2214.7 722.2L2215.1 729.4L2215.4 728.3L2215.7 733.1L2216.0 735.5L2216.2 743.6L2216.5 743.2L2216.8 745.9L2217.1 753.7L2217.3 752.7L2217.6 753.3L2217.9 759.8L2218.2 758.7L2218.4 766.9L2218.7 767.6L2219.7 773.1L2220.7 772.0L2221.8 774.7L2222.8 779.3L2223.8 781.7L2224.5 778.7L2225.1 773.5L2225.8 773.9L2226.5 765.1L2227.2 765.6L2227.8 763.5L2228.0 759.5L2228.2 756.6L2228.4 754.7L2228.6 748.2L2228.8 749.0L2229.0 744.1L2229.2 739.9L2229.4 735.2L2229.5 732.4L2229.7 732.7L2229.9 726.6L2230.1 725.7L2230.3 724.7L2230.5 721.5L2230.7 719.5L2230.9 712.9L2231.7 708.9L2232.6 703.8L2233.4 705.0L2234.2 700.1L2235.1 698.5L2235.9 692.6L2236.7 689.6L2237.5 689.2L2238.2 685.4L2239.0 682.1L2239.7 678.6L2240.5 675.3L2241.2 671.9L2242.0 668.3L2242.7 672.0L2243.4 676.8L2244.0 676.7L2244.7 684.8L2245.4 683.9L2246.1 689.4L2246.7 690.2L2247.4 693.0L2248.1 696.7L2248.9 698.1L2249.8 689.9L2250.6 684.8L2251.5 683.0L2252.3 680.8L2253.1 678.5L2253.5 680.2L2253.8 672.8L2254.2 671.4L2254.5 664.1L2254.8 664.0L2255.2 661.7L2255.5 661.2L2255.8 652.6L2256.2 652.4L2256.5 648.7L2256.9 642.8L2257.2 642.0L2257.6 638.9L2258.0 635.4L2258.5 627.8L2258.9 631.2L2259.3 628.0L2259.7 622.8L2260.2 617.8L2260.6 621.0L2261.0 615.3L2261.4 613.9L2261.8 611.7L2262.3 605.6L2262.9 601.3L2263.6 601.0L2264.3 595.6L2265.0 592.8L2265.6 589.6L2266.3 586.7L2267.0 586.0L2267.7 580.6L2268.3 577.2L2269.3 573.8L2270.4 570.5L2271.4 568.8L2272.4 565.1L2275.8 561.7L2279.1 561.2L2282.5 561.0L2283.9 563.6L2285.2 565.2L2286.6 569.1L2287.2 565.7L2287.9 561.5L2288.6 564.1L2289.3 559.4L2289.9 554.3L2290.6 550.1L2291.3 551.9L2292.0 544.6L2292.6 540.8L2294.2 537.3L2295.7 534.8L2297.2 531.6L2298.7 527.6L2299.0 533.9L2299.2 533.9L2299.5 541.7L2299.7 538.3L2300.0 544.9L2300.2 544.4L2300.5 553.7L2300.7 552.9L2303.4 553.5L2306.1 555.5L2308.8 557.0L2309.9 562.0L2310.9 565.8L2311.9 563.6L2312.9 568.3L2313.9 569.1L2314.9 575.2L2315.8 578.4L2316.7 580.8L2317.6 583.2L2318.5 585.4L2319.4 589.0L2320.3 591.1L2321.2 596.8L2322.1 601.9L2323.0 601.5L2326.4 595.9L2329.8 598.6L2333.1 597.5L2333.9 593.6L2334.6 592.6L2335.3 586.5L2336.1 585.4L2336.8 580.4L2337.6 581.3L2338.3 577.1L2339.0 573.5L2339.8 571.8L2340.5 567.5L2341.2 565.1L2341.7 564.9L2342.3 572.9L2342.8 575.6L2343.3 577.9L2343.8 583.7L2344.3 587.5L2344.8 585.7L2345.3 591.4L2346.0 586.7L2346.6 588.9L2347.3 585.7L2348.0 578.1L2348.7 574.2L2349.3 572.4L2350.0 569.8L2350.7 564.5L2351.4 565.1L2353.4 568.2L2355.4 568.3L2357.4 571.5L2359.5 577.2L2360.0 582.3L2360.5 581.8L2361.0 586.2L2361.5 590.7L2362.0 594.2L2362.5 594.7L2363.0 598.6L2363.5 599.7L2364.0 608.4L2364.5 607.6L2365.3 605.9L2366.0 598.9L2366.7 598.2L2367.5 596.6L2368.2 593.0L2368.9 592.8L2369.7 588.7L2370.4 581.4L2371.2 579.2L2371.9 573.5L2372.6 573.2L2373.6 576.6L2374.7 579.3L2375.7 587.8L2376.7 584.9L2377.7 583.0L2378.7 589.0L2379.7 593.4L2379.9 596.7L2380.0 596.8L2380.2 600.8L2380.3 604.9L2380.4 609.6L2380.6 611.6L2380.7 613.1L2380.9 619.8L2381.0 620.0L2381.2 623.2L2381.3 624.3L2381.5 628.7L2381.6 635.0L2381.7 633.0L2381.9 639.5L2382.0 644.4L2382.2 645.0L2382.3 649.5L2382.5 649.6L2382.6 658.0L2382.8 658.2L2382.9 657.6L2383.1 652.7L2383.2 645.3L2383.4 643.9L2383.5 645.4L2383.7 644.0L2383.8 637.9L2384.0 637.0L2384.1 629.9L2384.3 627.8L2384.4 625.2L2384.6 623.1L2384.7 615.8L2384.9 618.3L2385.0 616.1L2385.2 607.7L2385.3 604.2L2385.5 605.0L2385.6 599.8L2385.8 593.0L2385.9 597.0L2386.1 592.5L2386.2 588.2L2386.4 590.9L2386.5 583.5L2386.7 578.5L2386.8 577.2L2386.9 580.5L2387.1 581.1L2387.2 584.8L2387.4 590.4L2387.5 591.4L2387.7 594.7L2387.8 602.5L2388.0 603.8L2388.1 606.7L2388.3 609.2L2388.4 612.2L2388.5 617.4L2388.7 617.3L2388.8 624.5L2389.0 621.4L2389.1 626.0L2389.3 626.6L2389.4 632.0L2389.6 637.0L2389.7 642.1L2389.8 642.0L2390.0 637.5L2390.1 635.9L2390.3 632.1L2390.4 628.2L2390.6 624.2L2390.8 623.9L2390.9 616.9L2391.0 618.0L2391.0 614.7L2391.0 610.2L2391.0 606.4L2391.0 602.5L2391.0 606.6L2391.0 596.5L2391.0 599.9L2391.0 594.7L2391.0 589.6L2391.0 584.8L2391.0 586.6L2391.0 581.3" fill="none" stroke="#000" stroke-width="11" stroke-linejoin="round" stroke-linecap="round"/>
<g stroke="#ff0000" stroke-width="7.6" fill="none" stroke-dasharray="29.6 21.8">
<line x1="694.2" y1="152.6" x2="694.2" y2="1347.5"/>
<line x1="1024.0" y1="152.6" x2="1024.0" y2="1347.5"/>
<line x1="1349.3" y1="152.7" x2="1349.3" y2="781.0"/>
<line x1="1767.3" y1="260.8" x2="1767.3" y2="1348.4"/>
<line x1="1858.5" y1="263.8" x2="1858.5" y2="1350.8"/>
<line x1="1985.3" y1="266.5" x2="1985.3" y2="1354.4"/>
<line x1="2018.6" y1="268.6" x2="2018.6" y2="1356.0"/>
<line x1="2050.7" y1="152.7" x2="2050.7" y2="1348.0"/>
</g>
<g stroke="#176b8f" stroke-width="10.5" fill="none" stroke-linejoin="round" stroke-linecap="butt">
<path d="M1758.5 234.7L1758.5 220.5Q1758.5 204.5 1774.5 204.5L1803.8 204.5Q1815.8 204.5 1815.8 192.5L1815.8 173M1815.8 173L1815.8 192.5Q1815.8 204.5 1827.8 204.5L1858.5 204.5Q1874.5 204.5 1874.5 220.5L1874.5 234.7"/>
<path d="M1970 234.7L1970 221Q1970 205 1986 205L1990.3 205Q2002.3 205 2002.3 193L2002.3 173M2002.3 173L2002.3 193Q2002.3 205 2014.3 205L2019 205Q2035 205 2035 221L2035 234.7"/>
</g>
<g stroke="#000" fill="none">
<rect x="415.2" y="83.0" width="1979.3999999999999" height="1307.3" stroke-width="6.8"/>
<g stroke-width="6.2">
<line x1="393" y1="83.0" x2="415.2" y2="83.0"/>
<line x1="393" y1="344.0" x2="415.2" y2="344.0"/>
<line x1="393" y1="606.8" x2="415.2" y2="606.8"/>
<line x1="393" y1="868.6" x2="415.2" y2="868.6"/>
<line x1="393" y1="1130.0" x2="415.2" y2="1130.0"/>
<line x1="393" y1="1390.3" x2="415.2" y2="1390.3"/>
<line x1="415.2" y1="1390.3" x2="415.2" y2="1411"/>
<line x1="471.4" y1="1390.3" x2="471.4" y2="1408.5" stroke-width="5.6"/>
<line x1="527.9" y1="1390.3" x2="527.9" y2="1408.5" stroke-width="5.6"/>
<line x1="584.4" y1="1390.3" x2="584.4" y2="1408.5" stroke-width="5.6"/>
<line x1="640.8" y1="1390.3" x2="640.8" y2="1408.5" stroke-width="5.6"/>
<line x1="697.3" y1="1390.3" x2="697.3" y2="1411"/>
<line x1="753.8" y1="1390.3" x2="753.8" y2="1408.5" stroke-width="5.6"/>
<line x1="810.2" y1="1390.3" x2="810.2" y2="1408.5" stroke-width="5.6"/>
<line x1="866.7" y1="1390.3" x2="866.7" y2="1408.5" stroke-width="5.6"/>
<line x1="923.2" y1="1390.3" x2="923.2" y2="1408.5" stroke-width="5.6"/>
<line x1="979.7" y1="1390.3" x2="979.7" y2="1411"/>
<line x1="1036.1" y1="1390.3" x2="1036.1" y2="1408.5" stroke-width="5.6"/>
<line x1="1092.6" y1="1390.3" x2="1092.6" y2="1408.5" stroke-width="5.6"/>
<line x1="1149.1" y1="1390.3" x2="1149.1" y2="1408.5" stroke-width="5.6"/>
<line x1="1205.5" y1="1390.3" x2="1205.5" y2="1408.5" stroke-width="5.6"/>
<line x1="1262.0" y1="1390.3" x2="1262.0" y2="1411"/>
<line x1="1318.5" y1="1390.3" x2="1318.5" y2="1408.5" stroke-width="5.6"/>
<line x1="1375.0" y1="1390.3" x2="1375.0" y2="1408.5" stroke-width="5.6"/>
<line x1="1431.4" y1="1390.3" x2="1431.4" y2="1408.5" stroke-width="5.6"/>
<line x1="1487.9" y1="1390.3" x2="1487.9" y2="1408.5" stroke-width="5.6"/>
<line x1="1544.4" y1="1390.3" x2="1544.4" y2="1411"/>
<line x1="1600.9" y1="1390.3" x2="1600.9" y2="1408.5" stroke-width="5.6"/>
<line x1="1657.3" y1="1390.3" x2="1657.3" y2="1408.5" stroke-width="5.6"/>
<line x1="1713.8" y1="1390.3" x2="1713.8" y2="1408.5" stroke-width="5.6"/>
<line x1="1770.3" y1="1390.3" x2="1770.3" y2="1408.5" stroke-width="5.6"/>
<line x1="1826.7" y1="1390.3" x2="1826.7" y2="1411"/>
<line x1="1883.2" y1="1390.3" x2="1883.2" y2="1408.5" stroke-width="5.6"/>
<line x1="1939.7" y1="1390.3" x2="1939.7" y2="1408.5" stroke-width="5.6"/>
<line x1="1996.2" y1="1390.3" x2="1996.2" y2="1408.5" stroke-width="5.6"/>
<line x1="2052.6" y1="1390.3" x2="2052.6" y2="1408.5" stroke-width="5.6"/>
<line x1="2109.1" y1="1390.3" x2="2109.1" y2="1411"/>
<line x1="2165.6" y1="1390.3" x2="2165.6" y2="1408.5" stroke-width="5.6"/>
<line x1="2222.0" y1="1390.3" x2="2222.0" y2="1408.5" stroke-width="5.6"/>
<line x1="2278.5" y1="1390.3" x2="2278.5" y2="1408.5" stroke-width="5.6"/>
<line x1="2335.0" y1="1390.3" x2="2335.0" y2="1408.5" stroke-width="5.6"/>
<line x1="2394.6" y1="1390.3" x2="2394.6" y2="1411"/>
</g></g>
<text class="k" x="22.5" y="93.5" font-size="102" text-anchor="start" textLength="128.4" lengthAdjust="spacingAndGlyphs">(a)</text>
<text class="k" x="358" y="105.2" font-size="69.5" text-anchor="end" textLength="113.1" lengthAdjust="spacingAndGlyphs">100</text>
<text class="k" x="358" y="366.2" font-size="69.5" text-anchor="end" textLength="75.4" lengthAdjust="spacingAndGlyphs">95</text>
<text class="k" x="358" y="629.0" font-size="69.5" text-anchor="end" textLength="75.4" lengthAdjust="spacingAndGlyphs">90</text>
<text class="k" x="358" y="890.8000000000001" font-size="69.5" text-anchor="end" textLength="75.4" lengthAdjust="spacingAndGlyphs">85</text>
<text class="k" x="358" y="1152.2" font-size="69.5" text-anchor="end" textLength="75.4" lengthAdjust="spacingAndGlyphs">80</text>
<text class="k" x="358" y="1412.5" font-size="69.5" text-anchor="end" textLength="75.4" lengthAdjust="spacingAndGlyphs">75</text>
<text class="k" x="414.2" y="1492.5" font-size="69.5" text-anchor="middle" textLength="149.7" lengthAdjust="spacingAndGlyphs">4000</text>
<text class="k" x="696.3" y="1492.5" font-size="69.5" text-anchor="middle" textLength="149.7" lengthAdjust="spacingAndGlyphs">3500</text>
<text class="k" x="978.7" y="1492.5" font-size="69.5" text-anchor="middle" textLength="149.7" lengthAdjust="spacingAndGlyphs">3000</text>
<text class="k" x="1261.0" y="1492.5" font-size="69.5" text-anchor="middle" textLength="149.7" lengthAdjust="spacingAndGlyphs">2500</text>
<text class="k" x="1543.4" y="1492.5" font-size="69.5" text-anchor="middle" textLength="149.7" lengthAdjust="spacingAndGlyphs">2000</text>
<text class="k" x="1825.7" y="1492.5" font-size="69.5" text-anchor="middle" textLength="149.7" lengthAdjust="spacingAndGlyphs">1500</text>
<text class="k" x="2108.1" y="1492.5" font-size="69.5" text-anchor="middle" textLength="149.7" lengthAdjust="spacingAndGlyphs">1000</text>
<text class="k" x="2393.6" y="1492.5" font-size="69.5" text-anchor="middle" textLength="112.2" lengthAdjust="spacingAndGlyphs">500</text>
<text class="k" font-size="72" text-anchor="middle" transform="translate(210 735.5) rotate(-90)" textLength="632" lengthAdjust="spacingAndGlyphs">Transmittance (%)</text>
<text class="k" y="1598.8" font-size="76.5"><tspan x="1056" textLength="476" lengthAdjust="spacingAndGlyphs">Wavenumber</tspan><tspan x="1543.5"> </tspan><tspan x="1543.8">(cm</tspan><tspan x="1681" y="1577" font-size="47">-1</tspan><tspan x="1724.5" y="1598.8">)</tspan></text>
<text class="k" x="708" y="180.3" font-size="76.5" text-anchor="start" textLength="136.3" lengthAdjust="spacingAndGlyphs">O-H</text>
<text class="k" x="1032" y="180.3" font-size="76.5" text-anchor="start" textLength="132.2" lengthAdjust="spacingAndGlyphs">C-H</text>
<text class="k" x="1354" y="179.5" font-size="73">(CO<tspan font-size="48" dy="16">2</tspan><tspan dy="-16">)</tspan></text>
<text class="k" x="1746.5" y="159" font-size="76.5" text-anchor="start" textLength="132.2" lengthAdjust="spacingAndGlyphs">C-C</text>
<text class="k" x="1915.5" y="156" font-size="76.5" text-anchor="start" textLength="132.2" lengthAdjust="spacingAndGlyphs">C-H</text>
<text class="k" x="2061.5" y="185" font-size="76.5" text-anchor="start" textLength="136.3" lengthAdjust="spacingAndGlyphs">C-O</text>
</g>
<g id="chart-b">
<path d="M397.0 1968.1L397.5 1897.8L398.0 1947.8L398.5 1875.9L399.0 1955.7L399.5 1864.5L400.0 1944.1L400.5 1880.3L401.0 1935.9L401.5 1864.7L402.0 1942.3L402.5 1913.3L403.0 1952.2L403.5 1897.0L404.0 1994.8L404.5 1888.5L405.0 1976.2L405.5 1882.3L406.0 1993.6L406.5 1887.9L407.0 1989.0L407.5 1881.1L408.0 1972.6L408.5 1887.2L409.0 2024.6L409.5 1899.0L410.0 1992.1L410.5 1902.9L411.0 1982.5L411.5 1885.8L412.0 1965.6L412.5 1905.6L413.0 1965.3L413.5 1890.4L414.0 1975.0L414.5 1891.8L415.0 1979.1L415.5 1902.1L416.0 1972.6L416.5 1915.3L417.0 1980.5L417.5 1896.2L418.0 1979.4L418.5 1877.6L419.0 1992.3L419.5 1921.1L420.0 1990.3L420.5 1909.8L421.0 2003.8L421.5 1867.6L422.0 1984.5L422.5 1889.9L423.0 1983.8L423.5 1881.7L424.0 1987.3L424.5 1871.0L425.0 1971.4L425.5 1841.3L426.0 1970.2L426.5 1880.6L427.0 1991.9L427.5 1875.5L428.0 1967.1L428.5 1889.0L429.0 1974.2L429.5 1881.6L430.0 1989.6L430.5 1890.6L431.0 1982.8L431.5 1877.2L432.0 1971.2L432.5 1899.3L433.0 1980.3L433.5 1898.9L434.0 1977.1L434.5 1901.1L435.0 1988.4L435.5 1924.9L436.0 1981.7L436.5 1910.2L437.0 1968.5L437.5 1918.0L438.0 1950.0L438.5 1909.7L439.0 1969.7L439.5 1889.7L440.0 1963.8L440.5 1862.7L441.0 1985.2L441.5 1855.7L442.0 1976.0L442.5 1886.6L443.0 1974.5L443.5 1911.4L444.0 2029.7L444.5 1908.7L445.0 1974.7L445.5 1908.6L446.0 1994.7L446.5 1892.7L447.0 2025.9L447.5 1891.1L448.0 2006.0L448.5 1916.1L449.0 1995.1L449.5 1920.6L450.0 2022.3L450.5 1912.6L451.0 2016.2L451.5 1909.7L452.0 2014.2L452.5 1887.6L453.0 1992.0L453.5 1937.3L454.0 1996.9L454.5 1926.7L455.0 1994.7L455.5 1951.6L456.0 1993.6L456.5 1954.3L457.0 2015.3L457.5 1910.4L458.0 1996.0L458.5 1930.8L459.0 2014.4L459.5 1953.7L460.0 2017.4L460.5 1943.3L461.0 2018.8L461.5 1922.9L462.0 2003.3L462.5 1935.2L463.0 2024.2L463.5 1944.8L464.0 2021.2L464.5 1926.1L465.0 2021.3L465.5 1934.6L466.0 2029.2L466.5 1960.0L467.0 2031.1L467.5 1915.6L468.0 2028.3L468.5 1930.6L469.0 2001.6L469.5 1945.1L470.0 2011.4L470.5 1949.9L471.0 2030.5L471.5 1954.9L472.0 2022.3L472.5 1969.3L473.0 2019.8L473.5 1942.1L474.0 2008.7L474.5 1945.5L475.0 2034.9L475.5 1953.3L476.0 2006.5L476.5 1951.0L477.0 2031.8L477.5 1921.0L478.0 2041.0L478.5 1951.8L479.0 2016.6L479.5 1932.3L480.0 2013.4L480.5 1907.9L481.0 2035.7L481.5 1942.9L482.0 2026.3L482.5 1936.3L483.0 2035.9L483.5 1953.8L484.0 2031.3L484.5 1902.2L485.0 2008.9L485.5 1936.7L486.0 2010.1L486.5 1949.2L487.0 1996.5L487.5 1946.5L488.0 2031.8L488.5 1915.7L489.0 2023.2L489.5 1925.1L490.0 2015.7L490.5 1945.1L491.0 2025.4L491.5 1953.5L492.0 2008.5L492.5 1904.9L493.0 2016.0L493.5 1951.0L494.0 2028.2L494.5 1945.7L495.0 2036.4L495.5 1882.6L496.0 2018.6L496.5 1931.3L497.0 2021.5L497.5 1941.1L498.0 2019.3L498.5 1926.1L499.0 2031.7L499.5 1921.4L500.0 2005.7L500.5 1936.2L501.0 2069.4L501.5 1926.2L502.0 2001.0L502.5 1935.3L503.0 2009.4L503.5 1931.0L504.0 1994.3L504.5 1925.2L505.0 2023.1L505.5 1946.5L506.0 2023.5L506.5 1954.4L507.0 2076.7L507.5 1945.9L508.0 2007.5L508.5 1949.7L509.0 2013.8L509.5 1929.3L510.0 2021.4L510.5 1930.1L511.0 2013.3L511.5 1969.7L512.0 2022.6L512.5 1959.8L513.0 2026.1L513.5 1897.6L514.0 2027.4L514.5 1943.9L515.0 2026.6L515.5 1941.5L516.0 2015.4L516.5 1958.0L517.0 2010.3L517.5 1939.5L518.0 2024.1L518.5 1947.3L519.0 2027.3L519.5 1960.5L520.0 2028.3L520.5 1954.2L521.0 2034.8L521.5 1931.9L522.0 2017.1L522.5 1964.2L523.0 2048.7L523.5 1955.2L524.0 2034.0L524.5 1934.6L525.0 2047.6L525.5 1949.7L526.0 2035.0L526.5 1932.4L527.0 2044.0L527.5 1953.0L528.0 2042.8L528.5 1976.0L529.0 2027.1L529.5 1955.8L530.0 2046.1L530.5 1964.5L531.0 2033.5L531.5 1980.6L532.0 2041.3L532.5 1982.7L533.0 2060.0L533.5 1963.8L534.0 2081.6L534.5 1964.9L535.0 2045.6L535.5 1989.9L536.0 2024.7L536.5 1983.5L537.0 2045.6L537.5 1972.1L538.0 2054.5L538.5 1977.4L539.0 2052.9L539.5 1979.6L540.0 2067.3L540.5 1999.3L541.0 2048.3L541.5 2000.7L542.0 2067.0L542.5 1974.6L543.0 2061.6L543.5 2004.4L544.0 2064.6L544.5 1990.5L545.0 2063.3L545.5 1990.6L546.0 2069.9L546.5 1995.3L547.0 2097.8L547.5 1987.3L548.0 2057.5L548.5 1987.2L549.0 2052.7L549.5 1975.0L550.0 2053.0L550.5 1980.1L551.0 2047.4L551.5 2004.6L552.0 2063.9L552.5 2005.9L553.0 2066.8L553.5 1991.3L554.0 2042.2L554.5 2003.8L555.0 2053.7L555.5 2005.3L556.0 2050.4L556.5 1991.0L557.0 2057.5L557.5 1995.2L558.0 2056.9L558.5 1995.6L559.0 2052.2L559.5 2000.7L560.0 2089.5L560.5 2002.2L561.0 2060.4L561.5 2014.9L562.0 2072.9L562.5 2010.7L563.0 2074.5L563.5 2025.7L564.0 2081.1L564.5 1991.4L565.0 2082.7L565.5 2004.8L566.0 2090.7L566.5 2035.5L567.0 2091.1L567.5 2016.0L568.0 2100.3L568.5 1996.6L569.0 2084.2L569.5 2015.1L570.0 2093.1L570.5 2019.9L571.0 2093.9L571.5 2029.8L572.0 2080.7L572.5 1988.0L573.0 2102.5L573.5 2028.8L574.0 2088.7L574.5 2026.1L575.0 2098.3L575.5 2023.1L576.0 2098.8L576.5 2041.9L577.0 2092.0L577.5 2044.2L578.0 2096.1L578.5 2043.4L579.0 2102.3L579.5 2059.3L580.0 2105.7L580.5 2060.3L581.0 2114.5L581.5 2043.8L582.0 2098.4L582.5 2039.2L583.0 2123.2L583.5 2045.0L584.0 2135.0L584.5 2035.2L585.0 2111.2L585.5 2046.1L586.0 2130.2L586.5 2051.3L587.0 2134.8L587.5 2064.4L588.0 2122.6L588.5 2065.6L589.0 2122.7L589.5 2065.0L590.0 2120.5L590.5 2071.8L591.0 2136.0L591.5 2063.9L592.0 2132.4L592.5 2076.2L593.0 2114.1L593.5 2041.5L594.0 2120.6L594.5 2073.5L595.0 2131.9L595.5 2070.0L596.0 2124.1L596.5 2067.3L597.0 2129.4L597.5 2073.6L598.0 2138.0L598.5 2074.5L599.0 2132.7L599.5 2076.9L600.0 2143.9L600.5 2064.0L601.0 2164.1L601.5 2067.1L602.0 2146.6L602.5 2070.8L603.0 2153.0L603.5 2072.8L604.0 2123.2L604.5 2060.6L605.0 2140.8L605.5 2081.3L606.0 2140.4L606.5 2081.6L607.0 2159.7L607.5 2075.6L608.0 2130.1L608.5 2075.2L609.0 2144.4L609.5 2067.0L610.0 2139.5L610.5 2102.6L611.0 2149.8L611.5 2087.9L612.0 2147.9L612.5 2106.7L613.0 2158.9L613.5 2077.7L614.0 2132.1L614.5 2089.9L615.0 2177.4L615.5 2081.8L616.0 2150.3L616.5 2101.7L617.0 2156.8L617.5 2099.1L618.0 2146.1L618.5 2100.7L619.0 2149.1L619.5 2120.7L620.0 2167.7L620.5 2111.8L621.0 2158.4L621.5 2103.9L622.0 2153.4L622.5 2119.2L623.0 2165.1L623.5 2116.3L624.0 2174.1L624.5 2106.4L625.0 2169.9L625.5 2112.0L626.0 2179.8L626.5 2125.6L627.0 2180.0L627.5 2128.5L628.0 2187.4L628.5 2118.1L629.0 2176.0L629.5 2131.3L630.0 2179.5L630.5 2098.8L631.0 2187.0L631.5 2128.7L632.0 2181.1L632.5 2125.0L633.0 2190.6L633.5 2134.7L634.0 2195.0L634.5 2135.3L635.0 2180.3L635.5 2136.3L636.0 2178.6L636.5 2140.2L637.0 2182.5L637.5 2127.1L638.0 2193.2L638.5 2142.3L639.0 2198.1L639.5 2141.4L640.0 2190.6L640.5 2136.2L641.0 2190.4L641.5 2127.2L642.0 2196.1L642.5 2121.6L643.0 2202.2L643.5 2140.0L644.0 2189.2L644.5 2157.2L645.0 2199.4L645.5 2133.9L646.0 2198.9L646.5 2133.8L647.0 2206.2L647.5 2142.5L648.0 2202.2L648.5 2148.3L649.0 2195.1L649.5 2136.1L650.0 2201.6L650.5 2153.4L651.0 2227.3L651.5 2146.0L652.0 2191.9L652.5 2141.1L653.0 2194.1L653.5 2154.4L654.0 2188.9L654.5 2130.8L655.0 2185.9L655.5 2140.0L656.0 2227.6L656.5 2146.2L657.0 2186.5L657.5 2153.0L658.0 2196.6L658.5 2149.0L659.0 2193.5L659.5 2164.2L660.0 2204.3L660.5 2149.9L661.0 2202.1L661.5 2159.2L662.0 2200.9L662.5 2156.1L663.0 2200.3L663.5 2171.2L664.0 2196.4L664.5 2164.7L665.0 2191.3L665.5 2166.9L666.0 2201.8L666.5 2172.7L667.0 2207.3L667.5 2181.7L668.0 2204.9L668.5 2170.3L669.0 2209.1L669.5 2168.2L670.0 2209.0L670.5 2177.7L671.0 2219.2L671.5 2168.4L672.0 2232.7L672.5 2170.8L673.0 2216.0L673.5 2170.8L674.0 2218.8L674.5 2188.0L675.0 2242.8L675.5 2178.3L676.0 2231.7L676.5 2180.4L677.0 2236.5L677.5 2184.5L678.0 2231.4L678.5 2192.8L679.0 2218.3L679.5 2180.8L680.0 2260.9L680.5 2189.8L681.0 2236.0L681.5 2196.0L682.0 2230.7L682.5 2190.3L683.0 2242.9L683.5 2200.0L684.0 2240.2L684.5 2200.9L685.0 2242.1L685.5 2204.6L686.0 2234.7L686.5 2207.0L687.0 2255.7L687.5 2216.3L688.0 2246.2L688.5 2210.8L689.0 2252.3L689.5 2213.7L690.0 2240.5L690.5 2217.9L691.0 2248.1L691.5 2221.5L692.0 2259.8L692.5 2221.9L693.0 2261.4L693.5 2203.5L694.0 2264.4L694.5 2221.7L695.0 2259.6L695.5 2230.9L696.0 2261.0L696.5 2234.7L697.0 2263.5L697.5 2236.4L698.0 2264.9L698.5 2247.7L699.0 2278.3L699.5 2250.4L700.0 2272.9L700.5 2244.4L701.0 2277.2L701.5 2240.2L702.0 2269.0L702.5 2243.9L703.0 2265.7L703.5 2238.3L704.0 2283.6L704.5 2254.4L705.0 2280.0L705.5 2249.3L706.0 2278.2L706.5 2257.2L707.0 2292.6L707.5 2241.1L708.0 2289.4L708.5 2253.4L709.0 2290.9L709.5 2258.8L710.0 2295.3L710.5 2266.7L711.0 2301.1L711.5 2242.9L712.0 2314.2L712.5 2263.0L713.0 2317.9L713.5 2268.0L714.0 2312.3L714.5 2271.9L715.0 2306.4L715.5 2268.7L716.0 2320.3L716.5 2278.2L717.0 2324.2L717.5 2275.7L718.0 2319.1L718.5 2271.1L719.0 2310.9L719.5 2293.0L720.0 2318.0L720.5 2285.5L721.0 2309.8L721.5 2295.8L722.0 2307.3L722.5 2301.5L723.0 2319.4L723.5 2298.8L724.0 2315.5L724.5 2301.6L725.0 2329.6L725.5 2302.7L726.0 2329.2L726.5 2286.5L727.0 2334.3L727.5 2272.8L728.0 2331.8L728.5 2304.3L729.0 2331.1L729.5 2303.2L730.0 2362.7L730.5 2302.4L731.0 2368.2L731.5 2285.9L732.0 2350.9L732.5 2319.7L733.0 2339.0L733.5 2321.7L734.0 2346.3L734.5 2325.1L735.0 2373.1L735.5 2332.7L736.0 2353.9L736.5 2331.8L737.0 2365.8L737.5 2340.1L738.0 2372.3L738.5 2342.5L739.0 2367.6L739.5 2342.2L740.0 2385.8L740.5 2346.9L741.0 2383.9L741.5 2340.3L742.0 2389.4L742.5 2354.3L743.0 2393.8L743.5 2351.1L744.0 2386.4L744.5 2357.9L745.0 2394.4L745.5 2359.6L746.0 2393.7L746.5 2356.4L747.0 2393.0L747.5 2373.9L748.0 2404.7L748.5 2368.1L749.0 2408.6L749.5 2381.3L750.0 2433.6L750.5 2377.2L751.0 2429.7L751.5 2387.9L752.0 2413.4L752.5 2385.4L753.0 2427.3L753.5 2391.4L754.0 2428.7L754.5 2390.5L755.0 2425.3L755.5 2387.6L756.0 2435.2L756.5 2390.2L757.0 2430.7L757.5 2399.4L758.0 2444.3L758.5 2406.5L759.0 2438.1L759.5 2401.8L760.0 2449.6L760.5 2412.2L761.0 2429.8L761.5 2416.0L762.0 2439.7L762.5 2413.0L763.0 2449.7L763.5 2415.6L764.0 2448.5L764.5 2419.2L765.0 2451.0L765.5 2423.0L766.0 2453.4L766.5 2410.7L767.0 2461.9L767.5 2428.3L768.0 2453.3L768.5 2431.9L769.0 2453.1L769.5 2435.8L770.0 2459.0L770.5 2429.6L771.0 2463.4L771.5 2441.7L772.0 2461.0L772.5 2443.2L773.0 2469.0L773.5 2442.6L774.0 2495.5L774.5 2446.0L775.0 2477.6L775.5 2444.1L776.0 2473.4L776.5 2457.1L777.0 2470.8L777.5 2447.6L778.0 2485.9L778.5 2443.7L779.0 2486.3L779.5 2459.3L780.0 2483.5L780.5 2463.1L781.0 2493.2L781.5 2461.3L782.0 2501.5L782.5 2467.5L783.0 2501.0L783.5 2466.3L784.0 2496.7L784.5 2462.6L785.0 2502.4L785.5 2470.8L786.0 2510.3L786.5 2470.0L787.0 2507.9L787.5 2476.2L788.0 2506.9L788.5 2485.5L789.0 2507.3L789.5 2475.4L790.0 2511.1L790.5 2481.9L791.0 2520.5L791.5 2492.9L792.0 2526.9L792.5 2488.9L793.0 2531.7L793.5 2484.1L794.0 2533.2L794.5 2490.4L795.0 2529.9L795.5 2492.3L796.0 2529.9L796.5 2505.7L797.0 2533.0L797.5 2508.6L798.0 2546.9L798.5 2509.0L799.0 2536.3L799.5 2517.1L800.0 2545.3L800.5 2526.1L801.0 2544.0L801.5 2514.0L802.0 2538.8L802.5 2527.7L803.0 2561.0L803.5 2532.8L804.0 2572.9L804.5 2539.8L805.0 2570.6L805.5 2523.4L806.0 2571.6L806.5 2536.3L807.0 2570.4L807.5 2539.4L808.0 2589.4L808.5 2543.1L809.0 2572.6L809.5 2536.3L810.0 2570.2L810.5 2543.9L811.0 2577.8L811.5 2550.5L812.0 2586.0L812.5 2546.8L813.0 2577.2L813.5 2552.9L814.0 2584.5L814.5 2557.6L815.0 2589.8L815.5 2561.0L816.0 2598.0L816.5 2565.6L817.0 2595.6L817.5 2568.4L818.0 2607.5L818.5 2573.0L819.0 2592.3L819.5 2578.5L820.0 2599.9L820.5 2572.7L821.0 2609.9L821.5 2572.9L822.0 2605.3L822.5 2562.2L823.0 2617.5L823.5 2578.8L824.0 2623.6L824.5 2576.9L825.0 2614.4L825.5 2586.9L826.0 2627.7L826.5 2585.1L827.0 2624.2L827.5 2584.1L828.0 2625.3L828.5 2593.3L829.0 2628.7L829.5 2604.0L830.0 2636.6L830.5 2603.3L831.0 2629.7L831.5 2604.3L832.0 2637.0L832.5 2604.5L833.0 2637.4L833.5 2614.2L834.0 2638.1L834.5 2615.7L835.0 2643.1L835.5 2608.9L836.0 2643.8L836.5 2604.4L837.0 2647.9L837.5 2600.0L838.0 2656.7L838.5 2617.6L839.0 2662.9L839.5 2611.8L840.0 2654.2L840.5 2615.4L841.0 2665.4L841.5 2619.7L842.0 2668.1L842.5 2631.6L843.0 2662.9L843.5 2619.2L844.0 2669.5L844.5 2634.3L845.0 2671.1L845.5 2634.2L846.0 2663.7L846.5 2643.7L847.0 2667.4L847.5 2634.7L848.0 2675.6L848.5 2638.9L849.0 2678.7L849.5 2637.9L850.0 2671.8L850.5 2644.8L851.0 2678.9L851.5 2649.7L852.0 2677.8L852.5 2650.8L853.0 2680.0L853.5 2658.8L854.0 2681.0L854.5 2645.7L855.0 2681.2L855.5 2663.8L856.0 2688.1L856.5 2647.5L857.0 2691.0L857.5 2664.9L858.0 2694.4L858.5 2666.0L859.0 2689.1L859.5 2665.8L860.0 2692.5L860.5 2661.2L861.0 2697.8L861.5 2666.9L862.0 2702.3L862.5 2667.9L863.0 2701.5L863.5 2675.9L864.0 2695.3L864.5 2669.7L865.0 2698.6L865.5 2675.8L866.0 2704.4L866.5 2681.6L867.0 2704.1L867.5 2674.3L868.0 2696.4L868.5 2676.3L869.0 2717.3L869.5 2682.8L870.0 2711.3L870.5 2683.5L871.0 2720.5L871.5 2692.9L872.0 2714.4L872.5 2688.6L873.0 2715.3L873.5 2688.4L874.0 2717.2L874.5 2693.3L875.0 2715.8L875.5 2695.5L876.0 2715.5L876.5 2695.1L877.0 2719.6L877.5 2701.0L878.0 2744.0L878.5 2700.7L879.0 2718.6L879.5 2696.1L880.0 2725.8L880.5 2694.6L881.0 2730.6L881.5 2696.6L882.0 2733.5L882.5 2702.7L883.0 2734.8L883.5 2693.8L884.0 2726.8L884.5 2704.5L885.0 2750.9L885.5 2709.6L886.0 2734.0L886.5 2697.9L887.0 2737.4L887.5 2701.4L888.0 2741.9L888.5 2710.7L889.0 2741.1L889.5 2707.5L890.0 2745.2L890.5 2712.5L891.0 2744.8L891.5 2715.8L892.0 2752.7L892.5 2706.3L893.0 2746.4L893.5 2726.1L894.0 2752.8L894.5 2725.9L895.0 2750.2L895.5 2727.0L896.0 2751.7L896.5 2723.5L897.0 2757.8L897.5 2726.2L898.0 2763.3L898.5 2728.3L899.0 2769.3L899.5 2723.2L900.0 2757.5L900.5 2730.1L901.0 2745.0L901.5 2728.6L902.0 2757.3L902.5 2720.9L903.0 2753.3L903.5 2722.9L904.0 2758.3L904.5 2728.7L905.0 2749.9L905.5 2733.4L906.0 2760.9L906.5 2730.4L907.0 2763.4L907.5 2737.9L908.0 2769.0L908.5 2729.3L909.0 2766.6L909.5 2728.8L910.0 2769.6L910.5 2735.0L911.0 2759.8L911.5 2739.9L912.0 2773.4L912.5 2732.9L913.0 2768.8L913.5 2738.2L914.0 2768.2L914.5 2735.5L915.0 2766.2L915.5 2729.8L916.0 2778.5L916.5 2737.6L917.0 2769.7L917.5 2745.1L918.0 2771.2L918.5 2737.8L919.0 2778.1L919.5 2743.2L920.0 2775.8L920.5 2746.0L921.0 2772.1L921.5 2738.3L922.0 2775.9L922.5 2735.4L923.0 2771.7L923.5 2746.0L924.0 2779.4L924.5 2747.4L925.0 2769.4L925.5 2752.0L926.0 2778.4L926.5 2748.2L927.0 2793.3L927.5 2745.8L928.0 2793.5L928.5 2752.3L929.0 2781.7L929.5 2756.2L930.0 2785.8L930.5 2753.6L931.0 2785.7L931.5 2757.6L932.0 2787.3L932.5 2767.9L933.0 2786.2L933.5 2760.4L934.0 2792.9L934.5 2758.8L935.0 2793.0L935.5 2762.6L936.0 2800.7L936.5 2763.7L937.0 2794.0L937.5 2769.6L938.0 2799.1L938.5 2773.1L939.0 2800.9L939.5 2766.5L940.0 2798.7L940.5 2765.0L941.0 2800.3L941.5 2775.1L942.0 2801.6L942.5 2776.4L943.0 2807.7L943.5 2769.9L944.0 2821.1L944.5 2770.0L945.0 2811.1L945.5 2774.5L946.0 2803.7L946.5 2773.5L947.0 2806.9L947.5 2771.5L948.0 2823.4L948.5 2770.2L949.0 2817.5L949.5 2776.1L950.0 2821.5L950.5 2789.0L951.0 2810.9L951.5 2786.0L952.0 2806.9L952.5 2788.0L953.0 2832.0L953.5 2791.0L954.0 2809.5L954.5 2793.4L955.0 2806.9L955.5 2789.0L956.0 2813.5L956.5 2792.6L957.0 2822.2L957.5 2783.7L958.0 2813.8L958.5 2789.0L959.0 2818.0L959.5 2792.0L960.0 2818.0L960.5 2794.4L961.0 2822.3L961.5 2791.4L962.0 2817.7L962.5 2789.0L963.0 2819.8L963.5 2791.8L964.0 2820.5L964.5 2785.6L965.0 2824.5L965.5 2794.2L966.0 2820.6L966.5 2795.5L967.0 2819.3L967.5 2795.1L968.0 2825.3L968.5 2804.6L969.0 2824.9L969.5 2794.5L970.0 2843.7L970.5 2800.7L971.0 2830.0L971.5 2800.1L972.0 2820.2L972.5 2802.2L973.0 2826.9L973.5 2795.8L974.0 2831.4L974.5 2798.1L975.0 2821.6L975.5 2802.4L976.0 2824.0L976.5 2801.8L977.0 2821.9L977.5 2800.3L978.0 2831.5L978.5 2799.4L979.0 2831.3L979.5 2801.4L980.0 2824.3L980.5 2800.3L981.0 2834.3L981.5 2795.7L982.0 2829.6L982.5 2796.4L983.0 2831.8L983.5 2797.0L984.0 2847.6L984.5 2805.0L985.0 2845.8L985.5 2789.2L986.0 2830.7L986.5 2806.7L987.0 2841.1L987.5 2802.9L988.0 2834.3L988.5 2805.1L989.0 2851.0L989.5 2807.9L990.0 2835.2L990.5 2802.7L991.0 2843.9L991.5 2807.0L992.0 2834.3L992.5 2810.3L993.0 2844.4L993.5 2809.2L994.0 2848.1L994.5 2814.9L995.0 2845.5L995.5 2811.1L996.0 2847.1L996.5 2809.6L997.0 2845.1L997.5 2812.0L998.0 2837.3L998.5 2813.4L999.0 2835.6L999.5 2819.1L1000.0 2842.5L1000.5 2810.8L1001.0 2839.9L1001.5 2813.6L1002.0 2839.7L1002.5 2820.3L1003.0 2846.4L1003.5 2817.7L1004.0 2844.1L1004.5 2807.6L1005.0 2836.8L1005.5 2825.2L1006.0 2843.9L1006.5 2819.1L1007.0 2848.1L1007.5 2823.9L1008.0 2847.5L1008.5 2816.4L1009.0 2846.7L1009.5 2825.0L1010.0 2850.1L1010.5 2825.3L1011.0 2848.7L1011.5 2819.8L1012.0 2855.8L1012.5 2829.1L1013.0 2848.3L1013.5 2823.9L1014.0 2848.4L1014.5 2825.1L1015.0 2848.2L1015.5 2822.1L1016.0 2848.6L1016.5 2826.4L1017.0 2858.2L1017.5 2827.7L1018.0 2851.6L1018.5 2824.8L1019.0 2852.6L1019.5 2826.7L1020.0 2852.0L1020.5 2827.4L1021.0 2849.5L1021.5 2827.4L1022.0 2854.5L1022.5 2824.1L1023.0 2851.4L1023.5 2814.1L1024.0 2857.4L1024.5 2834.2L1025.0 2861.7L1025.5 2827.7L1026.0 2856.4L1026.5 2825.3L1027.0 2856.3L1027.5 2833.7L1028.0 2864.8L1028.5 2836.2L1029.0 2857.9L1029.5 2829.2L1030.0 2855.1L1030.5 2834.4L1031.0 2860.7L1031.5 2826.4L1032.0 2857.2L1032.5 2834.2L1033.0 2862.1L1033.5 2834.7L1034.0 2857.5L1034.5 2833.3L1035.0 2862.7L1035.5 2833.4L1036.0 2866.1L1036.5 2831.6L1037.0 2864.1L1037.5 2834.4L1038.0 2858.6L1038.5 2835.8L1039.0 2864.2L1039.5 2836.7L1040.0 2864.8L1040.5 2838.9L1041.0 2866.3L1041.5 2833.4L1042.0 2861.8L1042.5 2839.5L1043.0 2860.8L1043.5 2836.2L1044.0 2863.9L1044.5 2841.1L1045.0 2862.8L1045.5 2841.2L1046.0 2860.2L1046.5 2839.5L1047.0 2862.0L1047.5 2840.9L1048.0 2866.4L1048.5 2839.1L1049.0 2867.1L1049.5 2839.7L1050.0 2866.0L1050.5 2843.3L1051.0 2870.3L1051.5 2847.1L1052.0 2872.6L1052.5 2843.7L1053.0 2862.9L1053.5 2844.2L1054.0 2864.3L1054.5 2840.7L1055.0 2861.3L1055.5 2850.2L1056.0 2862.9L1056.5 2840.5L1057.0 2863.3L1057.5 2844.6L1058.0 2865.0L1058.5 2850.0L1059.0 2865.3L1059.5 2841.8L1060.0 2864.7L1060.5 2840.0L1061.0 2864.7L1061.5 2844.1L1062.0 2865.1L1062.5 2842.7L1063.0 2873.7L1063.5 2844.5L1064.0 2868.7L1064.5 2847.8L1065.0 2865.0L1065.5 2840.7L1066.0 2864.0L1066.5 2848.2L1067.0 2866.9L1067.5 2846.4L1068.0 2873.8L1068.5 2845.6L1069.0 2868.8L1069.5 2842.9L1070.0 2863.3L1070.5 2846.2L1071.0 2867.2L1071.5 2838.9L1072.0 2862.3L1072.5 2849.1L1073.0 2869.7L1073.5 2840.7L1074.0 2866.2L1074.5 2853.1L1075.0 2872.1L1075.5 2846.5L1076.0 2870.1L1076.5 2839.2L1077.0 2866.2L1077.5 2848.9L1078.0 2871.9L1078.5 2843.8L1079.0 2875.0L1079.5 2851.2L1080.0 2873.2L1080.5 2849.1L1081.0 2863.3L1081.5 2847.6L1082.0 2866.6L1082.5 2847.9L1083.0 2875.4L1083.5 2846.2L1084.0 2870.9L1084.5 2845.9L1085.0 2871.6L1085.5 2849.1L1086.0 2873.8L1086.5 2843.1L1087.0 2875.5L1087.5 2849.6L1088.0 2877.0L1088.5 2847.6L1089.0 2879.1L1089.5 2847.7L1090.0 2879.5L1090.5 2847.0L1091.0 2874.8L1091.5 2850.8L1092.0 2876.4L1092.5 2847.9L1093.0 2873.3L1093.5 2854.6L1094.0 2866.7L1094.5 2847.3L1095.0 2873.6L1095.5 2845.7L1096.0 2867.4L1096.5 2845.2L1097.0 2871.1L1097.5 2846.4L1098.0 2874.2L1098.5 2850.0L1099.0 2871.5L1099.5 2854.0L1100.0 2871.1L1100.5 2854.7L1101.0 2876.6L1101.5 2849.6L1102.0 2876.9L1102.5 2847.2L1103.0 2872.2L1103.5 2846.4L1104.0 2869.3L1104.5 2848.7L1105.0 2870.8L1105.5 2853.5L1106.0 2868.8L1106.5 2849.4L1107.0 2866.7L1107.5 2845.5L1108.0 2872.1L1108.5 2848.5L1109.0 2871.9L1109.5 2853.6L1110.0 2865.8L1110.5 2848.0L1111.0 2858.2L1111.5 2846.7L1112.0 2865.2L1112.5 2849.6L1113.0 2862.8L1113.5 2837.8L1114.0 2866.1L1114.5 2852.5L1115.0 2861.5L1115.5 2839.2L1116.0 2861.4L1116.5 2844.0L1117.0 2872.7L1117.5 2850.2L1118.0 2863.3L1118.5 2842.7L1119.0 2861.6L1119.5 2843.6L1120.0 2868.7L1120.5 2842.4L1121.0 2860.9L1121.5 2847.6L1122.0 2860.8L1122.5 2841.4L1123.0 2867.1L1123.5 2837.6L1124.0 2862.9L1124.5 2848.8L1125.0 2867.5L1125.5 2845.4L1126.0 2864.5L1126.5 2845.2L1127.0 2869.6L1127.5 2845.9L1128.0 2864.5L1128.5 2853.5L1129.0 2867.4L1129.5 2846.3L1130.0 2867.2L1130.5 2847.8L1131.0 2864.9L1131.5 2843.3L1132.0 2868.7L1132.5 2844.8L1133.0 2866.2L1133.5 2846.6L1134.0 2882.9L1134.5 2847.3L1135.0 2865.5L1135.5 2832.6L1136.0 2872.9L1136.5 2844.6L1137.0 2874.1L1137.5 2845.4L1138.0 2868.7L1138.5 2850.3L1139.0 2868.8L1139.5 2841.0L1140.0 2870.8L1140.5 2841.7L1141.0 2871.5L1141.5 2845.6L1142.0 2869.4L1142.5 2844.5L1143.0 2872.8L1143.5 2843.2L1144.0 2882.7L1144.5 2844.1L1145.0 2866.1L1145.5 2844.5L1146.0 2866.2L1146.5 2840.1L1147.0 2861.6L1147.5 2843.2L1148.0 2873.8L1148.5 2842.0L1149.0 2863.6L1149.5 2841.4L1150.0 2870.3L1150.5 2840.7L1151.0 2867.3L1151.5 2840.5L1152.0 2866.1L1152.5 2828.3L1153.0 2867.5L1153.5 2842.1L1154.0 2864.6L1154.5 2838.2L1155.0 2867.3L1155.5 2826.4L1156.0 2865.4L1156.5 2842.9L1157.0 2866.4L1157.5 2838.8L1158.0 2862.7L1158.5 2827.9L1159.0 2861.8L1159.5 2839.4L1160.0 2862.0L1160.5 2842.7L1161.0 2861.4L1161.5 2837.1L1162.0 2858.7L1162.5 2839.6L1163.0 2859.8L1163.5 2830.8L1164.0 2854.0L1164.5 2838.5L1165.0 2857.0L1165.5 2839.0L1166.0 2862.8L1166.5 2839.2L1167.0 2860.5L1167.5 2840.5L1168.0 2866.1L1168.5 2827.6L1169.0 2863.2L1169.5 2842.3L1170.0 2856.1L1170.5 2834.6L1171.0 2867.9L1171.5 2838.2L1172.0 2858.9L1172.5 2839.9L1173.0 2860.4L1173.5 2835.4L1174.0 2857.9L1174.5 2839.2L1175.0 2858.1L1175.5 2840.3L1176.0 2859.6L1176.5 2834.9L1177.0 2859.7L1177.5 2827.1L1178.0 2860.0L1178.5 2847.3L1179.0 2861.2L1179.5 2840.3L1180.0 2859.0L1180.5 2839.9L1181.0 2856.0L1181.5 2838.1L1182.0 2860.5L1182.5 2831.3L1183.0 2858.0L1183.5 2838.8L1184.0 2864.5L1184.5 2838.8L1185.0 2866.6L1185.5 2836.0L1186.0 2857.0L1186.5 2833.7L1187.0 2864.7L1187.5 2841.1L1188.0 2862.9L1188.5 2839.9L1189.0 2873.6L1189.5 2839.6L1190.0 2853.3L1190.5 2836.4L1191.0 2860.9L1191.5 2832.6L1192.0 2863.5L1192.5 2837.1L1193.0 2857.3L1193.5 2839.2L1194.0 2856.9L1194.5 2840.6L1195.0 2868.0L1195.5 2845.1L1196.0 2857.1L1196.5 2838.3L1197.0 2863.6L1197.5 2834.7L1198.0 2854.8L1198.5 2835.1L1199.0 2852.1L1199.5 2834.2L1200.0 2850.9L1200.5 2833.8L1201.0 2858.5L1201.5 2840.5L1202.0 2865.6L1202.5 2832.8L1203.0 2860.2L1203.5 2833.9L1204.0 2855.5L1204.5 2836.1L1205.0 2857.2L1205.5 2830.6L1206.0 2852.8L1206.5 2836.5L1207.0 2859.3L1207.5 2836.3L1208.0 2858.1L1208.5 2825.1L1209.0 2856.6L1209.5 2827.2L1210.0 2856.4L1210.5 2829.0L1211.0 2851.2L1211.5 2833.6L1212.0 2854.7L1212.5 2817.8L1213.0 2856.3L1213.5 2822.5L1214.0 2852.1L1214.5 2828.0L1215.0 2852.8L1215.5 2827.2L1216.0 2850.3L1216.5 2829.9L1217.0 2852.7L1217.5 2828.7L1218.0 2849.9L1218.5 2829.6L1219.0 2851.6L1219.5 2827.5L1220.0 2850.5L1220.5 2829.1L1221.0 2846.7L1221.5 2820.0L1222.0 2844.6L1222.5 2822.7L1223.0 2841.5L1223.5 2830.8L1224.0 2844.1L1224.5 2823.3L1225.0 2839.9L1225.5 2822.9L1226.0 2841.1L1226.5 2828.5L1227.0 2844.0L1227.5 2827.5L1228.0 2859.6L1228.5 2830.2L1229.0 2846.2L1229.5 2822.5L1230.0 2853.1L1230.5 2826.5L1231.0 2847.2L1231.5 2816.2L1232.0 2848.0L1232.5 2819.7L1233.0 2845.9L1233.5 2825.1L1234.0 2838.6L1234.5 2821.2L1235.0 2843.7L1235.5 2821.3L1236.0 2848.4L1236.5 2828.1L1237.0 2857.7L1237.5 2821.0L1238.0 2848.0L1238.5 2820.9L1239.0 2845.3L1239.5 2826.2L1240.0 2845.5L1240.5 2827.5L1241.0 2848.5L1241.5 2824.7L1242.0 2849.8L1242.5 2827.7L1243.0 2852.1L1243.5 2825.5L1244.0 2839.8L1244.5 2829.6L1245.0 2848.5L1245.5 2825.6L1246.0 2848.1L1246.5 2830.0L1247.0 2847.7L1247.5 2827.5L1248.0 2849.4L1248.5 2833.1L1249.0 2848.1L1249.5 2829.2L1250.0 2849.7L1250.5 2835.8L1251.0 2852.6L1251.5 2834.4L1252.0 2852.9L1252.5 2832.1L1253.0 2864.6L1253.5 2830.7L1254.0 2851.3L1254.5 2835.0L1255.0 2848.8L1255.5 2830.2L1256.0 2854.3L1256.5 2831.2L1257.0 2852.1L1257.5 2840.5L1258.0 2857.1L1258.5 2835.2L1259.0 2852.6L1259.5 2835.8L1260.0 2855.0L1260.5 2834.5L1261.0 2848.6L1261.5 2832.4L1262.0 2851.0L1262.5 2835.9L1263.0 2856.4L1263.5 2832.0L1264.0 2852.4L1264.5 2842.2L1265.0 2854.9L1265.5 2836.4L1266.0 2854.2L1266.5 2840.6L1267.0 2851.5L1267.5 2841.3L1268.0 2855.2L1268.5 2836.3L1269.0 2858.2L1269.5 2840.2L1270.0 2855.4L1270.5 2836.7L1271.0 2853.5L1271.5 2838.6L1272.0 2864.5L1272.5 2832.9L1273.0 2862.6L1273.5 2836.7L1274.0 2860.6L1274.5 2835.5L1275.0 2860.5L1275.5 2832.3L1276.0 2867.9L1276.5 2833.9L1277.0 2863.9L1277.5 2837.3L1278.0 2860.7L1278.5 2837.5L1279.0 2859.1L1279.5 2844.3L1280.0 2860.2L1280.5 2844.9L1281.0 2853.7L1281.5 2845.1L1282.0 2853.6L1282.5 2846.1L1283.0 2862.2L1283.5 2843.1L1284.0 2859.4L1284.5 2839.0L1285.0 2867.9L1285.5 2843.9L1286.0 2864.6L1286.5 2837.7L1287.0 2860.8L1287.5 2838.8L1288.0 2858.3L1288.5 2841.8L1289.0 2861.9L1289.5 2838.6L1290.0 2860.8L1290.5 2840.5L1291.0 2864.9L1291.5 2836.4L1292.0 2864.9L1292.5 2837.2L1293.0 2861.1L1293.5 2843.1L1294.0 2863.0L1294.5 2842.7L1295.0 2860.1L1295.5 2837.3L1296.0 2861.3L1296.5 2845.2L1297.0 2863.5L1297.5 2837.4L1298.0 2863.5L1298.5 2839.7L1299.0 2861.8L1299.5 2844.9L1300.0 2861.2L1300.5 2845.5L1301.0 2868.7L1301.5 2848.5L1302.0 2867.9L1302.5 2847.6L1303.0 2862.4L1303.5 2842.2L1304.0 2865.7L1304.5 2844.6L1305.0 2859.2L1305.5 2844.7L1306.0 2861.0L1306.5 2837.8L1307.0 2863.9L1307.5 2845.8L1308.0 2861.9L1308.5 2847.9L1309.0 2862.3L1309.5 2844.2L1310.0 2864.9L1310.5 2846.3L1311.0 2864.1L1311.5 2848.8L1312.0 2870.2L1312.5 2851.6L1313.0 2862.0L1313.5 2847.5L1314.0 2864.7L1314.5 2849.6L1315.0 2871.0L1315.5 2851.5L1316.0 2872.1L1316.5 2853.0L1317.0 2884.4L1317.5 2848.0L1318.0 2869.2L1318.5 2852.4L1319.0 2869.6L1319.5 2851.9L1320.0 2875.6L1320.5 2849.9L1321.0 2876.8L1321.5 2855.9L1322.0 2872.9L1322.5 2858.7L1323.0 2881.8L1323.5 2843.7L1324.0 2877.8L1324.5 2857.0L1325.0 2880.7L1325.5 2860.7L1326.0 2876.9L1326.5 2848.7L1327.0 2876.0L1327.5 2855.1L1328.0 2879.2L1328.5 2858.2L1329.0 2877.4L1329.5 2854.2L1330.0 2878.6L1330.5 2845.4L1331.0 2877.4L1331.5 2857.4L1332.0 2879.0L1332.5 2847.8L1333.0 2883.5L1333.5 2861.2L1334.0 2874.7L1334.5 2858.8L1335.0 2883.3L1335.5 2865.1L1336.0 2877.5L1336.5 2867.8L1337.0 2887.2L1337.5 2863.4L1338.0 2882.9L1338.5 2865.4L1339.0 2888.5L1339.5 2867.0L1340.0 2886.4L1340.5 2869.0L1341.0 2890.7L1341.5 2864.6L1342.0 2885.0L1342.5 2874.1L1343.0 2883.5L1343.5 2869.9L1344.0 2885.4L1344.5 2869.7L1345.0 2888.9L1345.5 2872.1L1346.0 2889.6L1346.5 2870.9L1347.0 2885.6L1347.5 2873.9L1348.0 2895.0L1348.5 2876.6L1349.0 2886.4L1349.5 2870.9L1350.0 2886.8L1350.5 2875.2L1351.0 2884.5L1351.5 2872.3L1352.0 2890.7L1352.5 2871.0L1353.0 2888.6L1353.5 2872.0L1354.0 2886.1L1354.5 2874.2L1355.0 2887.2L1355.5 2874.9L1356.0 2897.2L1356.5 2868.9L1357.0 2894.0L1357.5 2870.4L1358.0 2896.3L1358.5 2867.7L1359.0 2896.9L1359.5 2878.0L1360.0 2897.2L1360.5 2873.4L1361.0 2906.1L1361.5 2873.1L1362.0 2896.4L1362.5 2874.0L1363.0 2889.2L1363.5 2877.3L1364.0 2891.5L1364.5 2878.9L1365.0 2893.4L1365.5 2867.9L1366.0 2889.9L1366.5 2881.9L1367.0 2893.1L1367.5 2876.7L1368.0 2893.9L1368.5 2875.5L1369.0 2896.8L1369.5 2877.0L1370.0 2893.5L1370.5 2870.5L1371.0 2891.8L1371.5 2881.3L1372.0 2895.2L1372.5 2879.8L1373.0 2893.9L1373.5 2879.9L1374.0 2894.9L1374.5 2878.7L1375.0 2894.3L1375.5 2872.0L1376.0 2892.1L1376.5 2882.7L1377.0 2898.7L1377.5 2875.7L1378.0 2896.8L1378.5 2877.4L1379.0 2903.7L1379.5 2879.9L1380.0 2898.9L1380.5 2878.4L1381.0 2897.0L1381.5 2879.2L1382.0 2905.1L1382.5 2872.8L1383.0 2901.6L1383.5 2878.4L1384.0 2897.9L1384.5 2881.9L1385.0 2897.7L1385.5 2885.2L1386.0 2898.5L1386.5 2881.7L1387.0 2899.2L1387.5 2882.3L1388.0 2892.6L1388.5 2881.3L1389.0 2903.7L1389.5 2880.9L1390.0 2897.4L1390.5 2887.1L1391.0 2902.5L1391.5 2884.6L1392.0 2910.6L1392.5 2884.7L1393.0 2906.5L1393.5 2881.4L1394.0 2898.9L1394.5 2884.3L1395.0 2903.7L1395.5 2889.8L1396.0 2904.9L1396.5 2887.6L1397.0 2909.2L1397.5 2890.9L1398.0 2909.4L1398.5 2882.7L1399.0 2909.6L1399.5 2887.5L1400.0 2908.8L1400.5 2891.5L1401.0 2909.9L1401.5 2887.3L1402.0 2910.2L1402.5 2882.5L1403.0 2910.5L1403.5 2888.2L1404.0 2912.7L1404.5 2892.9L1405.0 2906.3L1405.5 2891.7L1406.0 2907.7L1406.5 2890.4L1407.0 2908.8L1407.5 2887.6L1408.0 2913.2L1408.5 2890.5L1409.0 2909.1L1409.5 2891.3L1410.0 2912.8L1410.5 2896.1L1411.0 2922.5L1411.5 2892.9L1412.0 2913.9L1412.5 2890.3L1413.0 2917.3L1413.5 2897.6L1414.0 2915.3L1414.5 2898.0L1415.0 2926.0L1415.5 2899.4L1416.0 2918.6L1416.5 2896.4L1417.0 2919.1L1417.5 2898.1L1418.0 2913.9L1418.5 2893.7L1419.0 2923.7L1419.5 2899.0L1420.0 2916.8L1420.5 2900.4L1421.0 2926.7L1421.5 2901.6L1422.0 2919.6L1422.5 2905.9L1423.0 2918.6L1423.5 2902.9L1424.0 2916.2L1424.5 2904.1L1425.0 2918.0L1425.5 2898.9L1426.0 2911.7L1426.5 2901.7L1427.0 2914.0L1427.5 2899.4L1428.0 2915.1L1428.5 2902.3L1429.0 2923.0L1429.5 2901.6L1430.0 2919.0L1430.5 2903.5L1431.0 2916.9L1431.5 2906.5L1432.0 2917.9L1432.5 2901.7L1433.0 2917.8L1433.5 2900.9L1434.0 2915.6L1434.5 2909.5L1435.0 2917.9L1435.5 2906.0L1436.0 2921.8L1436.5 2906.9L1437.0 2921.8L1437.5 2905.4L1438.0 2922.8L1438.5 2911.1L1439.0 2932.5L1439.5 2903.8L1440.0 2918.8L1440.5 2907.5L1441.0 2927.4L1441.5 2907.1L1442.0 2923.1L1442.5 2908.7L1443.0 2926.7L1443.5 2905.3L1444.0 2922.1L1444.5 2906.9L1445.0 2925.1L1445.5 2905.6L1446.0 2927.3L1446.5 2909.2L1447.0 2921.3L1447.5 2908.1L1448.0 2929.1L1448.5 2907.2L1449.0 2925.9L1449.5 2904.6L1450.0 2923.1L1450.5 2908.2L1451.0 2925.1L1451.5 2910.3L1452.0 2937.1L1452.5 2907.8L1453.0 2925.8L1453.5 2913.4L1454.0 2925.9L1454.5 2911.0L1455.0 2928.2L1455.5 2912.3L1456.0 2929.0L1456.5 2915.3L1457.0 2934.0L1457.5 2914.9L1458.0 2933.2L1458.5 2913.8L1459.0 2930.3L1459.5 2918.2L1460.0 2933.9L1460.5 2915.0L1461.0 2943.1L1461.5 2922.5L1462.0 2928.7L1462.5 2923.2L1463.0 2930.5L1463.5 2916.2L1464.0 2933.4L1464.5 2908.5L1465.0 2932.6L1465.5 2917.2L1466.0 2931.8L1466.5 2917.6L1467.0 2932.3L1467.5 2923.7L1468.0 2929.8L1468.5 2916.9L1469.0 2929.5L1469.5 2920.3L1470.0 2929.7L1470.5 2921.6L1471.0 2934.4L1471.5 2916.2L1472.0 2929.4L1472.5 2924.8L1473.0 2930.4L1473.5 2925.3L1474.0 2928.6L1474.5 2915.0L1475.0 2936.3L1475.5 2922.9L1476.0 2937.2L1476.5 2918.0L1477.0 2933.2L1477.5 2917.3L1478.0 2931.8L1478.5 2917.9L1479.0 2932.7L1479.5 2922.0L1480.0 2937.0L1480.5 2922.4L1481.0 2932.8L1481.5 2921.7L1482.0 2936.1L1482.5 2921.1L1483.0 2936.9L1483.5 2921.7L1484.0 2937.3L1484.5 2921.3L1485.0 2935.1L1485.5 2921.6L1486.0 2934.4L1486.5 2915.0L1487.0 2932.4L1487.5 2918.6L1488.0 2936.8L1488.5 2921.2L1489.0 2933.8L1489.5 2921.2L1490.0 2936.2L1490.5 2918.1L1491.0 2935.3L1491.5 2918.5L1492.0 2943.8L1492.5 2917.3L1493.0 2933.3L1493.5 2920.2L1494.0 2936.8L1494.5 2918.8L1495.0 2936.1L1495.5 2921.3L1496.0 2937.0L1496.5 2922.9L1497.0 2938.6L1497.5 2920.9L1498.0 2939.7L1498.5 2921.8L1499.0 2941.7L1499.5 2922.4L1500.0 2937.0L1500.5 2918.6L1501.0 2938.0L1501.5 2918.9L1502.0 2936.3L1502.5 2919.3L1503.0 2932.7L1503.5 2922.8L1504.0 2935.3L1504.5 2921.4L1505.0 2937.6L1505.5 2923.4L1506.0 2939.5L1506.5 2922.6L1507.0 2939.3L1507.5 2922.9L1508.0 2939.1L1508.5 2924.9L1509.0 2939.7L1509.5 2925.1L1510.0 2940.0L1510.5 2921.5L1511.0 2941.0L1511.5 2924.4L1512.0 2936.4L1512.5 2923.0L1513.0 2938.3L1513.5 2914.1L1514.0 2938.0L1514.5 2923.4L1515.0 2947.0L1515.5 2924.4L1516.0 2938.6L1516.5 2919.7L1517.0 2940.7L1517.5 2915.2L1518.0 2939.1L1518.5 2927.9L1519.0 2938.8L1519.5 2925.1L1520.0 2938.0L1520.5 2926.2L1521.0 2937.1L1521.5 2924.8L1522.0 2937.6L1522.5 2921.5L1523.0 2937.0L1523.5 2927.5L1524.0 2936.5L1524.5 2926.0L1525.0 2937.8L1525.5 2922.0L1526.0 2940.4L1526.5 2924.2L1527.0 2940.0L1527.5 2925.1L1528.0 2936.4L1528.5 2925.5L1529.0 2937.3L1529.5 2913.7L1530.0 2936.0L1530.5 2920.2L1531.0 2940.9L1531.5 2924.3L1532.0 2938.8L1532.5 2925.5L1533.0 2939.2L1533.5 2915.7L1534.0 2939.3L1534.5 2923.0L1535.0 2941.2L1535.5 2923.7L1536.0 2939.3L1536.5 2924.2L1537.0 2948.2L1537.5 2926.7L1538.0 2939.1L1538.5 2923.4L1539.0 2936.6L1539.5 2919.9L1540.0 2937.0L1540.5 2926.4L1541.0 2939.7L1541.5 2928.2L1542.0 2937.7L1542.5 2927.8L1543.0 2937.8L1543.5 2926.1L1544.0 2941.0L1544.5 2923.8L1545.0 2943.2L1545.5 2923.7L1546.0 2942.4L1546.5 2927.7L1547.0 2945.4L1547.5 2928.3L1548.0 2941.8L1548.5 2924.1L1549.0 2944.2L1549.5 2927.1L1550.0 2944.8L1550.5 2926.3L1551.0 2941.2L1551.5 2928.6L1552.0 2940.0L1552.5 2931.0L1553.0 2941.5L1553.5 2929.4L1554.0 2944.4L1554.5 2933.9L1555.0 2943.7L1555.5 2934.2L1556.0 2943.7L1556.5 2930.7L1557.0 2944.0L1557.5 2935.5L1558.0 2942.8L1558.5 2931.3L1559.0 2946.4L1559.5 2929.1L1560.0 2950.9L1560.5 2930.7L1561.0 2945.4L1561.5 2931.4L1562.0 2946.7L1562.5 2930.5L1563.0 2945.0L1563.5 2931.2L1564.0 2943.6L1564.5 2934.5L1565.0 2947.3L1565.5 2932.5L1566.0 2951.1L1566.5 2934.5L1567.0 2947.6L1567.5 2930.5L1568.0 2949.3L1568.5 2932.0L1569.0 2944.7L1569.5 2933.9L1570.0 2948.9L1570.5 2933.4L1571.0 2949.2L1571.5 2934.6L1572.0 2952.2L1572.5 2932.1L1573.0 2950.7L1573.5 2929.9L1574.0 2954.6L1574.5 2935.7L1575.0 2957.0L1575.5 2930.9L1576.0 2948.9L1576.5 2934.0L1577.0 2949.7L1577.5 2933.2L1578.0 2951.2L1578.5 2930.6L1579.0 2952.4L1579.5 2935.3L1580.0 2950.6L1580.5 2939.1L1581.0 2948.0L1581.5 2934.9L1582.0 2947.7L1582.5 2940.5L1583.0 2949.6L1583.5 2941.4L1584.0 2945.8L1584.5 2937.3L1585.0 2947.5L1585.5 2940.1L1586.0 2948.6L1586.5 2941.6L1587.0 2949.7L1587.5 2938.4L1588.0 2956.4L1588.5 2937.9L1589.0 2959.8L1589.5 2942.7L1590.0 2952.9L1590.5 2942.3L1591.0 2954.4L1591.5 2940.9L1592.0 2954.1L1592.5 2942.0L1593.0 2953.8L1593.5 2945.6L1594.0 2958.8L1594.5 2940.7L1595.0 2955.8L1595.5 2941.2L1596.0 2956.0L1596.5 2939.9L1597.0 2959.8L1597.5 2940.3L1598.0 2958.0L1598.5 2940.9L1599.0 2959.6L1599.5 2944.5L1600.0 2959.4L1600.5 2942.9L1601.0 2962.3L1601.5 2944.3L1602.0 2956.3L1602.5 2943.9L1603.0 2959.2L1603.5 2948.9L1604.0 2956.9L1604.5 2941.5L1605.0 2957.9L1605.5 2941.7L1606.0 2956.6L1606.5 2947.1L1607.0 2954.8L1607.5 2943.8L1608.0 2958.7L1608.5 2946.8L1609.0 2957.3L1609.5 2945.4L1610.0 2954.4L1610.5 2946.4L1611.0 2960.7L1611.5 2942.2L1612.0 2957.8L1612.5 2942.7L1613.0 2957.4L1613.5 2947.7L1614.0 2957.7L1614.5 2944.6L1615.0 2959.8L1615.5 2940.3L1616.0 2961.2L1616.5 2944.6L1617.0 2957.6L1617.5 2942.1L1618.0 2960.1L1618.5 2945.3L1619.0 2956.7L1619.5 2942.7L1620.0 2967.3L1620.5 2946.0L1621.0 2960.7L1621.5 2943.8L1622.0 2962.8L1622.5 2943.3L1623.0 2967.4L1623.5 2943.7L1624.0 2958.7L1624.5 2943.8L1625.0 2955.8L1625.5 2945.0L1626.0 2963.0L1626.5 2944.1L1627.0 2960.6L1627.5 2943.7L1628.0 2961.3L1628.5 2945.4L1629.0 2960.5L1629.5 2946.0L1630.0 2958.8L1630.5 2946.3L1631.0 2964.2L1631.5 2945.2L1632.0 2962.3L1632.5 2951.3L1633.0 2957.6L1633.5 2947.1L1634.0 2960.9L1634.5 2948.4L1635.0 2959.6L1635.5 2948.6L1636.0 2961.7L1636.5 2946.5L1637.0 2959.6L1637.5 2951.9L1638.0 2962.2L1638.5 2948.0L1639.0 2960.8L1639.5 2948.0L1640.0 2963.4L1640.5 2948.7L1641.0 2960.4L1641.5 2951.9L1642.0 2958.2L1642.5 2949.9L1643.0 2959.7L1643.5 2948.0L1644.0 2958.7L1644.5 2946.1L1645.0 2958.4L1645.5 2950.0L1646.0 2961.1L1646.5 2952.1L1647.0 2962.1L1647.5 2949.2L1648.0 2961.1L1648.5 2947.3L1649.0 2968.1L1649.5 2950.2L1650.0 2960.6L1650.5 2953.6L1651.0 2960.7L1651.5 2943.6L1652.0 2961.5L1652.5 2949.8L1653.0 2958.6L1653.5 2952.7L1654.0 2959.6L1654.5 2949.4L1655.0 2962.3L1655.5 2952.3L1656.0 2960.7L1656.5 2949.6L1657.0 2961.2L1657.5 2950.6L1658.0 2958.5L1658.5 2949.6L1659.0 2962.9L1659.5 2951.1L1660.0 2965.0L1660.5 2952.5L1661.0 2961.8L1661.5 2950.6L1662.0 2962.9L1662.5 2952.4L1663.0 2966.2L1663.5 2953.2L1664.0 2964.1L1664.5 2950.9L1665.0 2962.5L1665.5 2949.8L1666.0 2961.3L1666.5 2953.9L1667.0 2966.4L1667.5 2954.5L1668.0 2961.7L1668.5 2951.9L1669.0 2965.2L1669.5 2956.6L1670.0 2966.3L1670.5 2955.9L1671.0 2962.7L1671.5 2953.6L1672.0 2964.9L1672.5 2955.7L1673.0 2969.0L1673.5 2955.7L1674.0 2965.9L1674.5 2953.3L1675.0 2966.7L1675.5 2954.3L1676.0 2963.3L1676.5 2955.5L1677.0 2964.9L1677.5 2950.9L1678.0 2966.5L1678.5 2949.7L1679.0 2966.5L1679.5 2955.4L1680.0 2966.6L1680.5 2953.8L1681.0 2966.4L1681.5 2952.5L1682.0 2965.1L1682.5 2946.4L1683.0 2963.5L1683.5 2954.1L1684.0 2967.5L1684.5 2947.4L1685.0 2967.2L1685.5 2953.4L1686.0 2964.8L1686.5 2952.4L1687.0 2964.1L1687.5 2956.3L1688.0 2967.9L1688.5 2957.0L1689.0 2969.6L1689.5 2952.5L1690.0 2965.3L1690.5 2954.9L1691.0 2964.2L1691.5 2957.2L1692.0 2967.4L1692.5 2954.1L1693.0 2967.0L1693.5 2954.7L1694.0 2965.5L1694.5 2954.6L1695.0 2964.4L1695.5 2955.5L1696.0 2968.6L1696.5 2952.5L1697.0 2965.0L1697.5 2949.2L1698.0 2968.9L1698.5 2952.7L1699.0 2963.5L1699.5 2957.4L1700.0 2966.5L1700.5 2955.0L1701.0 2965.0L1701.5 2956.5L1702.0 2966.4L1702.5 2953.7L1703.0 2967.7L1703.5 2958.0L1704.0 2966.9L1704.5 2956.6L1705.0 2969.3L1705.5 2960.9L1706.0 2970.8L1706.5 2959.9L1707.0 2973.4L1707.5 2960.1L1708.0 2968.1L1708.5 2958.8L1709.0 2968.7L1709.5 2957.4L1710.0 2971.6L1710.5 2958.5L1711.0 2968.7L1711.5 2956.9L1712.0 2967.2L1712.5 2960.7L1713.0 2971.0L1713.5 2957.4L1714.0 2971.9L1714.5 2959.1L1715.0 2968.4L1715.5 2960.2L1716.0 2971.9L1716.5 2960.8L1717.0 2970.0L1717.5 2961.7L1718.0 2969.3L1718.5 2958.2L1719.0 2971.7L1719.5 2961.2L1720.0 2968.6L1720.5 2956.9L1721.0 2971.4L1721.5 2962.4L1722.0 2969.8L1722.5 2963.7L1723.0 2968.4L1723.5 2959.5L1724.0 2971.9L1724.5 2962.2L1725.0 2972.0L1725.5 2956.4L1726.0 2970.1L1726.5 2962.1L1727.0 2972.2L1727.5 2960.9L1728.0 2973.1L1728.5 2959.8L1729.0 2970.3L1729.5 2961.3L1730.0 2971.3L1730.5 2962.8L1731.0 2969.8L1731.5 2959.5L1732.0 2974.7L1732.5 2959.0L1733.0 2971.5L1733.5 2960.9L1734.0 2971.9L1734.5 2958.7L1735.0 2976.2L1735.5 2959.9L1736.0 2970.3L1736.5 2959.5L1737.0 2973.7L1737.5 2958.4L1738.0 2969.2L1738.5 2960.1L1739.0 2969.9L1739.5 2959.7L1740.0 2971.3L1740.5 2956.4L1741.0 2968.0L1741.5 2952.9L1742.0 2971.6L1742.5 2961.6L1743.0 2971.2L1743.5 2961.8L1744.0 2971.8L1744.5 2959.6L1745.0 2969.5L1745.5 2959.1L1746.0 2971.1L1746.5 2958.5L1747.0 2971.8L1747.5 2958.7L1748.0 2972.1L1748.5 2959.3L1749.0 2971.7L1749.5 2962.8L1750.0 2973.1L1750.5 2960.7L1751.0 2975.3L1751.5 2964.8L1752.0 2971.7L1752.5 2960.0L1753.0 2969.8L1753.5 2961.4L1754.0 2974.8L1754.5 2959.2L1755.0 2971.1L1755.5 2958.5L1756.0 2974.1L1756.5 2959.5L1757.0 2972.7L1757.5 2954.0L1758.0 2971.4L1758.5 2961.5L1759.0 2973.4L1759.5 2960.2L1760.0 2974.8L1760.5 2961.0L1761.0 2968.4L1761.5 2960.5L1762.0 2972.9L1762.5 2960.1L1763.0 2973.0L1763.5 2961.9L1764.0 2975.2L1764.5 2962.4L1765.0 2974.9L1765.5 2961.8L1766.0 2971.3L1766.5 2958.4L1767.0 2968.9L1767.5 2961.3L1768.0 2972.4L1768.5 2960.6L1769.0 2972.0L1769.5 2960.9L1770.0 2970.3L1770.5 2957.8L1771.0 2971.1L1771.5 2962.0L1772.0 2970.5L1772.5 2963.2L1773.0 2973.0L1773.5 2960.9L1774.0 2976.0L1774.5 2957.2L1775.0 2978.4L1775.5 2964.0L1776.0 2971.5L1776.5 2961.9L1777.0 2971.3L1777.5 2962.2L1778.0 2971.9L1778.5 2963.3L1779.0 2975.1L1779.5 2960.6L1780.0 2973.9L1780.5 2961.8L1781.0 2973.5L1781.5 2954.8L1782.0 2973.2L1782.5 2957.4L1783.0 2970.5L1783.5 2961.9L1784.0 2976.6L1784.5 2965.6L1785.0 2968.9L1785.5 2962.3L1786.0 2972.4L1786.5 2963.4L1787.0 2973.0L1787.5 2960.7L1788.0 2971.3L1788.5 2960.7L1789.0 2974.5L1789.5 2962.7L1790.0 2971.8L1790.5 2960.5L1791.0 2972.8L1791.5 2963.5L1792.0 2973.6L1792.5 2963.8L1793.0 2974.9L1793.5 2962.0L1794.0 2975.5L1794.5 2962.4L1795.0 2971.7L1795.5 2962.4L1796.0 2974.1L1796.5 2963.4L1797.0 2978.0L1797.5 2962.6L1798.0 2973.1L1798.5 2961.0L1799.0 2980.8L1799.5 2963.0L1800.0 2974.0L1800.5 2962.1L1801.0 2975.2L1801.5 2961.5L1802.0 2973.1L1802.5 2961.0L1803.0 2974.0L1803.5 2960.5L1804.0 2968.7L1804.5 2962.9L1805.0 2972.4L1805.5 2961.8L1806.0 2973.4L1806.5 2959.7L1807.0 2973.7L1807.5 2961.0L1808.0 2972.3L1808.5 2957.9L1809.0 2971.2L1809.5 2959.8L1810.0 2974.7L1810.5 2959.9L1811.0 2968.9L1811.5 2961.0L1812.0 2972.3L1812.5 2962.2L1813.0 2974.7L1813.5 2961.9L1814.0 2972.7L1814.5 2960.9L1815.0 2974.0L1815.5 2962.2L1816.0 2973.4L1816.5 2961.7L1817.0 2972.7L1817.5 2963.4L1818.0 2973.5L1818.5 2959.6L1819.0 2970.9L1819.5 2960.5L1820.0 2972.7L1820.5 2962.6L1821.0 2972.7L1821.5 2962.7L1822.0 2973.2L1822.5 2962.9L1823.0 2972.3L1823.5 2961.5L1824.0 2971.9L1824.5 2960.7L1825.0 2969.5L1825.5 2964.9L1826.0 2974.5L1826.5 2963.9L1827.0 2971.9L1827.5 2963.2L1828.0 2971.8L1828.5 2963.8L1829.0 2969.9L1829.5 2964.4L1830.0 2972.0L1830.5 2963.1L1831.0 2974.8L1831.5 2965.3L1832.0 2976.5L1832.5 2964.4L1833.0 2971.8L1833.5 2967.7L1834.0 2977.1L1834.5 2964.6L1835.0 2974.1L1835.5 2965.5L1836.0 2976.1L1836.5 2962.8L1837.0 2975.4L1837.5 2961.8L1838.0 2974.7L1838.5 2967.9L1839.0 2975.7L1839.5 2966.3L1840.0 2974.4L1840.5 2963.7L1841.0 2974.4L1841.5 2964.2L1842.0 2974.8L1842.5 2966.9L1843.0 2975.6L1843.5 2966.8L1844.0 2981.2L1844.5 2964.6L1845.0 2975.7L1845.5 2965.8L1846.0 2977.4L1846.5 2966.1L1847.0 2977.4L1847.5 2965.7L1848.0 2982.3L1848.5 2965.9L1849.0 2975.3L1849.5 2963.9L1850.0 2974.0L1850.5 2964.4L1851.0 2973.7L1851.5 2963.1L1852.0 2973.4L1852.5 2963.1L1853.0 2976.5L1853.5 2963.1L1854.0 2972.2L1854.5 2964.1L1855.0 2976.6L1855.5 2964.9L1856.0 2976.3L1856.5 2963.6L1857.0 2975.5L1857.5 2964.8L1858.0 2974.1L1858.5 2964.5L1859.0 2974.8L1859.5 2963.8L1860.0 2975.3L1860.5 2966.1L1861.0 2974.6L1861.5 2964.7L1862.0 2971.9L1862.5 2966.1L1863.0 2973.3L1863.5 2965.4L1864.0 2973.7L1864.5 2965.6L1865.0 2973.0L1865.5 2964.3L1866.0 2974.6L1866.5 2967.2L1867.0 2975.0L1867.5 2965.4L1868.0 2977.6L1868.5 2964.9L1869.0 2974.5L1869.5 2958.1L1870.0 2974.4L1870.5 2963.8L1871.0 2976.8L1871.5 2962.8L1872.0 2975.5L1872.5 2961.0L1873.0 2972.4L1873.5 2956.0L1874.0 2973.9L1874.5 2961.1L1875.0 2971.7L1875.5 2960.8L1876.0 2972.7L1876.5 2962.8L1877.0 2979.7L1877.5 2961.7L1878.0 2972.3L1878.5 2962.7L1879.0 2974.5L1879.5 2961.4L1880.0 2974.3L1880.5 2961.8L1881.0 2977.1L1881.5 2965.3L1882.0 2974.0L1882.5 2964.7L1883.0 2974.9L1883.5 2961.1L1884.0 2975.8L1884.5 2965.0L1885.0 2974.3L1885.5 2961.6L1886.0 2973.7L1886.5 2963.1L1887.0 2974.6L1887.5 2965.6L1888.0 2975.2L1888.5 2963.9L1889.0 2975.5L1889.5 2966.0L1890.0 2972.5L1890.5 2964.7L1891.0 2974.1L1891.5 2963.9L1892.0 2974.4L1892.5 2961.8L1893.0 2976.1L1893.5 2964.9L1894.0 2973.1L1894.5 2962.0L1895.0 2974.2L1895.5 2961.6L1896.0 2977.1L1896.5 2964.5L1897.0 2974.7L1897.5 2963.8L1898.0 2974.1L1898.5 2965.8L1899.0 2974.8L1899.5 2963.4L1900.0 2975.3L1900.5 2965.0L1901.0 2975.1L1901.5 2966.4L1902.0 2978.9L1902.5 2967.0L1903.0 2975.9L1903.5 2963.4L1904.0 2979.7L1904.5 2963.1L1905.0 2978.6L1905.5 2964.6L1906.0 2976.7L1906.5 2965.2L1907.0 2977.0L1907.5 2963.2L1908.0 2976.6L1908.5 2957.6L1909.0 2976.1L1909.5 2962.9L1910.0 2976.5L1910.5 2963.0L1911.0 2975.4L1911.5 2963.3L1912.0 2973.3L1912.5 2962.7L1913.0 2975.3L1913.5 2964.0L1914.0 2974.1L1914.5 2964.0L1915.0 2975.3L1915.5 2964.9L1916.0 2975.9L1916.5 2967.1L1917.0 2977.9L1917.5 2965.9L1918.0 2972.4L1918.5 2965.1L1919.0 2974.1L1919.5 2962.8L1920.0 2974.1L1920.5 2963.9L1921.0 2974.3L1921.5 2960.5L1922.0 2982.3L1922.5 2960.6L1923.0 2972.5L1923.5 2963.6L1924.0 2972.6L1924.5 2963.4L1925.0 2974.5L1925.5 2966.6L1926.0 2977.9L1926.5 2965.7L1927.0 2971.3L1927.5 2965.1L1928.0 2971.9L1928.5 2965.9L1929.0 2973.2L1929.5 2962.8L1930.0 2971.2L1930.5 2964.0L1931.0 2973.2L1931.5 2963.6L1932.0 2972.0L1932.5 2962.5L1933.0 2974.7L1933.5 2962.9L1934.0 2973.6L1934.5 2961.5L1935.0 2977.1L1935.5 2965.4L1936.0 2974.9L1936.5 2963.6L1937.0 2973.1L1937.5 2966.4L1938.0 2974.4L1938.5 2967.6L1939.0 2974.1L1939.5 2969.3L1940.0 2973.5L1940.5 2969.5L1941.0 2978.0L1941.5 2964.8L1942.0 2975.9L1942.5 2965.8L1943.0 2975.0L1943.5 2964.7L1944.0 2977.0L1944.5 2964.0L1945.0 2974.5L1945.5 2964.8L1946.0 2974.4L1946.5 2966.5L1947.0 2973.6L1947.5 2964.2L1948.0 2976.7L1948.5 2967.4L1949.0 2978.2L1949.5 2963.4L1950.0 2975.2L1950.5 2966.5L1951.0 2975.4L1951.5 2965.4L1952.0 2978.8L1952.5 2968.6L1953.0 2977.0L1953.5 2970.9L1954.0 2976.6L1954.5 2966.7L1955.0 2977.6L1955.5 2967.8L1956.0 2978.5L1956.5 2968.0L1957.0 2977.8L1957.5 2969.9L1958.0 2978.3L1958.5 2968.2L1959.0 2980.4L1959.5 2965.5L1960.0 2979.0L1960.5 2968.9L1961.0 2977.2L1961.5 2967.4L1962.0 2979.9L1962.5 2967.3L1963.0 2977.9L1963.5 2968.7L1964.0 2979.2L1964.5 2966.5L1965.0 2975.7L1965.5 2968.1L1966.0 2977.8L1966.5 2968.3L1967.0 2977.7L1967.5 2965.9L1968.0 2974.7L1968.5 2966.3L1969.0 2974.4L1969.5 2968.3L1970.0 2973.7L1970.5 2968.0L1971.0 2974.6L1971.5 2966.3L1972.0 2975.2L1972.5 2961.6L1973.0 2971.3L1973.5 2965.6L1974.0 2972.2L1974.5 2965.3L1975.0 2973.0L1975.5 2964.9L1976.0 2976.0L1976.5 2967.4L1977.0 2974.3L1977.5 2964.8L1978.0 2971.3L1978.5 2963.6L1979.0 2976.6L1979.5 2964.4L1980.0 2972.7L1980.5 2958.1L1981.0 2972.5L1981.5 2964.9L1982.0 2971.5L1982.5 2963.0L1983.0 2972.1L1983.5 2962.0L1984.0 2970.8L1984.5 2957.5L1985.0 2971.4L1985.5 2963.2L1986.0 2970.6L1986.5 2961.1L1987.0 2972.7L1987.5 2959.7L1988.0 2970.9L1988.5 2959.9L1989.0 2973.4L1989.5 2956.3L1990.0 2969.5L1990.5 2956.0L1991.0 2971.6L1991.5 2961.3L1992.0 2971.7L1992.5 2960.3L1993.0 2968.8L1993.5 2961.2L1994.0 2971.2L1994.5 2960.0L1995.0 2969.8L1995.5 2961.5L1996.0 2972.8L1996.5 2963.1L1997.0 2969.5L1997.5 2959.8L1998.0 2969.0L1998.5 2959.8L1999.0 2972.3L1999.5 2960.2L2000.0 2971.5L2000.5 2960.3L2001.0 2970.1L2001.5 2960.3L2002.0 2969.4L2002.5 2960.7L2003.0 2968.8L2003.5 2959.3L2004.0 2972.4L2004.5 2957.5L2005.0 2972.0L2005.5 2962.1L2006.0 2972.5L2006.5 2961.7L2007.0 2972.8L2007.5 2955.9L2008.0 2971.0L2008.5 2953.4L2009.0 2973.4L2009.5 2958.9L2010.0 2971.3L2010.5 2954.4L2011.0 2971.9L2011.5 2957.1L2012.0 2974.6L2012.5 2960.7L2013.0 2971.8L2013.5 2959.5L2014.0 2969.9L2014.5 2962.0L2015.0 2971.6L2015.5 2960.2L2016.0 2969.3L2016.5 2960.3L2017.0 2974.8L2017.5 2961.0L2018.0 2969.8L2018.5 2957.6L2019.0 2973.4L2019.5 2962.4L2020.0 2969.7L2020.5 2959.9L2021.0 2969.3L2021.5 2958.8L2022.0 2970.6L2022.5 2959.8L2023.0 2967.6L2023.5 2963.9L2024.0 2969.3L2024.5 2959.2L2025.0 2970.8L2025.5 2962.4L2026.0 2971.7L2026.5 2959.8L2027.0 2971.0L2027.5 2961.0L2028.0 2970.0L2028.5 2961.7L2029.0 2970.3L2029.5 2962.9L2030.0 2968.9L2030.5 2959.5L2031.0 2967.8L2031.5 2962.6L2032.0 2968.5L2032.5 2963.2L2033.0 2969.9L2033.5 2961.5L2034.0 2969.6L2034.5 2964.1L2035.0 2970.4L2035.5 2954.7L2036.0 2968.1L2036.5 2961.6L2037.0 2971.0L2037.5 2958.5L2038.0 2967.7L2038.5 2961.9L2039.0 2972.9L2039.5 2960.6L2040.0 2971.3L2040.5 2962.1L2041.0 2966.1L2041.5 2960.6L2042.0 2969.5L2042.5 2958.6L2043.0 2971.0L2043.5 2955.8L2044.0 2969.1L2044.5 2959.1L2045.0 2966.9L2045.5 2958.5L2046.0 2976.6L2046.5 2959.1L2047.0 2971.8L2047.5 2952.9L2048.0 2972.9L2048.5 2959.0L2049.0 2968.7L2049.5 2960.4L2050.0 2968.2L2050.5 2962.5L2051.0 2970.7L2051.5 2952.9L2052.0 2972.6L2052.5 2959.1L2053.0 2969.1L2053.5 2960.0L2054.0 2970.7L2054.5 2957.8L2055.0 2967.9L2055.5 2957.2L2056.0 2969.8L2056.5 2955.9L2057.0 2969.7L2057.5 2957.2L2058.0 2968.3L2058.5 2958.3L2059.0 2970.7L2059.5 2950.8L2060.0 2971.1L2060.5 2959.9L2061.0 2968.0L2061.5 2956.6L2062.0 2966.9L2062.5 2958.8L2063.0 2966.1L2063.5 2954.8L2064.0 2970.6L2064.5 2957.0L2065.0 2969.8L2065.5 2958.6L2066.0 2969.3L2066.5 2956.9L2067.0 2968.5L2067.5 2955.9L2068.0 2968.5L2068.5 2959.1L2069.0 2971.0L2069.5 2957.4L2070.0 2969.0L2070.5 2958.1L2071.0 2964.4L2071.5 2956.0L2072.0 2965.4L2072.5 2956.0L2073.0 2965.4L2073.5 2959.3L2074.0 2967.8L2074.5 2956.0L2075.0 2967.1L2075.5 2951.0L2076.0 2967.5L2076.5 2955.0L2077.0 2966.2L2077.5 2956.2L2078.0 2965.9L2078.5 2953.3L2079.0 2964.9L2079.5 2953.4L2080.0 2966.7L2080.5 2956.4L2081.0 2963.6L2081.5 2954.4L2082.0 2964.7L2082.5 2953.7L2083.0 2962.9L2083.5 2953.3L2084.0 2971.4L2084.5 2956.6L2085.0 2962.2L2085.5 2957.0L2086.0 2963.8L2086.5 2956.6L2087.0 2964.2L2087.5 2956.0L2088.0 2964.3L2088.5 2955.0L2089.0 2962.0L2089.5 2958.7L2090.0 2965.3L2090.5 2959.0L2091.0 2968.5L2091.5 2955.3L2092.0 2967.8L2092.5 2955.1L2093.0 2972.7L2093.5 2953.8L2094.0 2967.4L2094.5 2954.0L2095.0 2970.4L2095.5 2953.1L2096.0 2965.6L2096.5 2951.4L2097.0 2968.2L2097.5 2948.1L2098.0 2967.6L2098.5 2957.1L2099.0 2966.4L2099.5 2953.7L2100.0 2965.0L2100.5 2955.0L2101.0 2961.4L2101.5 2956.6L2102.0 2972.9L2102.5 2958.4L2103.0 2964.9L2103.5 2955.6L2104.0 2966.6L2104.5 2953.2L2105.0 2962.7L2105.5 2956.1L2106.0 2967.2L2106.5 2958.3L2107.0 2965.0L2107.5 2953.0L2108.0 2966.9L2108.5 2948.5L2109.0 2961.9L2109.5 2956.7L2110.0 2966.3L2110.5 2957.0L2111.0 2965.7L2111.5 2952.2L2112.0 2967.0L2112.5 2956.0L2113.0 2967.7L2113.5 2955.7L2114.0 2967.5L2114.5 2955.0L2115.0 2968.8L2115.5 2954.4L2116.0 2965.2L2116.5 2954.9L2117.0 2967.2L2117.5 2955.0L2118.0 2968.2L2118.5 2953.3L2119.0 2965.0L2119.5 2954.4L2120.0 2969.0L2120.5 2952.8L2121.0 2965.9L2121.5 2953.5L2122.0 2965.4L2122.5 2952.1L2123.0 2967.1L2123.5 2954.6L2124.0 2966.8L2124.5 2955.1L2125.0 2967.1L2125.5 2955.8L2126.0 2967.3L2126.5 2953.9L2127.0 2966.9L2127.5 2954.0L2128.0 2964.6L2128.5 2956.7L2129.0 2969.4L2129.5 2953.9L2130.0 2968.4L2130.5 2956.9L2131.0 2966.7L2131.5 2956.4L2132.0 2969.3L2132.5 2959.0L2133.0 2968.3L2133.5 2957.1L2134.0 2967.5L2134.5 2959.7L2135.0 2968.0L2135.5 2959.9L2136.0 2969.3L2136.5 2957.7L2137.0 2965.5L2137.5 2956.1L2138.0 2969.2L2138.5 2959.4L2139.0 2970.9L2139.5 2959.2L2140.0 2968.2L2140.5 2955.4L2141.0 2964.4L2141.5 2955.2L2142.0 2967.5L2142.5 2957.1L2143.0 2966.3L2143.5 2956.7L2144.0 2966.0L2144.5 2958.2L2145.0 2967.5L2145.5 2958.8L2146.0 2970.2L2146.5 2959.2L2147.0 2967.4L2147.5 2957.8L2148.0 2972.1L2148.5 2956.3L2149.0 2969.4L2149.5 2957.1L2150.0 2967.5L2150.5 2956.4L2151.0 2968.5L2151.5 2950.1L2152.0 2967.1L2152.5 2959.0L2153.0 2970.6L2153.5 2955.0L2154.0 2966.7L2154.5 2954.7L2155.0 2965.4L2155.5 2958.6L2156.0 2965.9L2156.5 2953.5L2157.0 2964.8L2157.5 2959.3L2158.0 2965.2L2158.5 2955.9L2159.0 2964.2L2159.5 2956.2L2160.0 2961.1L2160.5 2956.2L2161.0 2964.6L2161.5 2956.5L2162.0 2962.3L2162.5 2954.7L2163.0 2963.8L2163.5 2954.2L2164.0 2964.0L2164.5 2953.8L2165.0 2963.6L2165.5 2956.6L2166.0 2964.4L2166.5 2955.0L2167.0 2965.5L2167.5 2955.5L2168.0 2964.0L2168.5 2953.6L2169.0 2966.3L2169.5 2953.4L2170.0 2966.4L2170.5 2954.3L2171.0 2965.7L2171.5 2953.7L2172.0 2965.7L2172.5 2955.1L2173.0 2965.4L2173.5 2951.8L2174.0 2965.1L2174.5 2955.9L2175.0 2964.5L2175.5 2951.0L2176.0 2965.2L2176.5 2956.8L2177.0 2962.5L2177.5 2954.6L2178.0 2962.8L2178.5 2955.0L2179.0 2965.9L2179.5 2954.3L2180.0 2968.4L2180.5 2955.8L2181.0 2970.8L2181.5 2958.6L2182.0 2965.0L2182.5 2956.9L2183.0 2963.4L2183.5 2957.1L2184.0 2966.1L2184.5 2956.3L2185.0 2965.7L2185.5 2954.3L2186.0 2965.2L2186.5 2957.8L2187.0 2964.2L2187.5 2957.4L2188.0 2969.0L2188.5 2957.6L2189.0 2967.1L2189.5 2959.6L2190.0 2969.1L2190.5 2960.3L2191.0 2968.5L2191.5 2959.4L2192.0 2966.4L2192.5 2958.1L2193.0 2967.4L2193.5 2958.8L2194.0 2968.3L2194.5 2959.5L2195.0 2967.2L2195.5 2958.9L2196.0 2968.6L2196.5 2958.6L2197.0 2968.5L2197.5 2960.5L2198.0 2968.2L2198.5 2959.1L2199.0 2969.0L2199.5 2956.1L2200.0 2966.6L2200.5 2957.5L2201.0 2965.1L2201.5 2959.1L2202.0 2967.2L2202.5 2960.0L2203.0 2964.9L2203.5 2956.4L2204.0 2967.2L2204.5 2956.8L2205.0 2965.4L2205.5 2952.9L2206.0 2966.6L2206.5 2957.5L2207.0 2969.1L2207.5 2955.0L2208.0 2971.8L2208.5 2954.1L2209.0 2966.5L2209.5 2954.2L2210.0 2966.6L2210.5 2955.6L2211.0 2967.4L2211.5 2953.9L2212.0 2968.0L2212.5 2955.4L2213.0 2967.4L2213.5 2954.9L2214.0 2966.4L2214.5 2954.0L2215.0 2966.6L2215.5 2957.4L2216.0 2967.7L2216.5 2954.0L2217.0 2967.3L2217.5 2953.7L2218.0 2966.5L2218.5 2955.0L2219.0 2968.3L2219.5 2956.4L2220.0 2968.6L2220.5 2949.5L2221.0 2967.0L2221.5 2953.3L2222.0 2966.6L2222.5 2956.8L2223.0 2967.4L2223.5 2955.8L2224.0 2966.6L2224.5 2952.9L2225.0 2967.9L2225.5 2956.3L2226.0 2965.4L2226.5 2956.5L2227.0 2973.4L2227.5 2957.9L2228.0 2965.5L2228.5 2957.5L2229.0 2965.9L2229.5 2957.5L2230.0 2968.9L2230.5 2955.4L2231.0 2968.5L2231.5 2957.7L2232.0 2968.8L2232.5 2957.7L2233.0 2967.1L2233.5 2958.2L2234.0 2967.9L2234.5 2959.6L2235.0 2966.5L2235.5 2959.9L2236.0 2967.3L2236.5 2961.1L2237.0 2968.3L2237.5 2959.9L2238.0 2969.3L2238.5 2953.2L2239.0 2970.3L2239.5 2960.4L2240.0 2969.6L2240.5 2961.7L2241.0 2966.7L2241.5 2962.1L2242.0 2971.9L2242.5 2962.1L2243.0 2975.9L2243.5 2957.5L2244.0 2969.0L2244.5 2956.9L2245.0 2971.0L2245.5 2957.6L2246.0 2971.6L2246.5 2958.5L2247.0 2967.9L2247.5 2958.7L2248.0 2968.2L2248.5 2961.4L2249.0 2967.5L2249.5 2956.4L2250.0 2969.2L2250.5 2960.2L2251.0 2968.5L2251.5 2959.4L2252.0 2970.3L2252.5 2958.3L2253.0 2969.1L2253.5 2959.6L2254.0 2969.5L2254.5 2957.0L2255.0 2973.5L2255.5 2956.1L2256.0 2975.8L2256.5 2956.9L2257.0 2970.6L2257.5 2959.3L2258.0 2970.7L2258.5 2960.6L2259.0 2970.5L2259.5 2954.8L2260.0 2971.0L2260.5 2955.6L2261.0 2970.2L2261.5 2959.3L2262.0 2970.3L2262.5 2958.0L2263.0 2972.3L2263.5 2954.3L2264.0 2969.8L2264.5 2957.7L2265.0 2970.2L2265.5 2957.5L2266.0 2968.2L2266.5 2952.0L2267.0 2970.7L2267.5 2957.1L2268.0 2967.9L2268.5 2957.2L2269.0 2967.2L2269.5 2956.1L2270.0 2968.4L2270.5 2958.1L2271.0 2969.8L2271.5 2959.0L2272.0 2969.3L2272.5 2960.9L2273.0 2971.7L2273.5 2960.2L2274.0 2969.6L2274.5 2954.6L2275.0 2969.0L2275.5 2959.7L2276.0 2969.7L2276.5 2959.4L2277.0 2970.4L2277.5 2960.4L2278.0 2969.0L2278.5 2960.5L2279.0 2974.1L2279.5 2963.2L2280.0 2968.5L2280.5 2960.7L2281.0 2968.3L2281.5 2964.1L2282.0 2970.7L2282.5 2963.2L2283.0 2969.8L2283.5 2962.7L2284.0 2967.7L2284.5 2962.4L2285.0 2972.7L2285.5 2958.7L2286.0 2969.9L2286.5 2962.2L2287.0 2971.4L2287.5 2961.8L2288.0 2974.4L2288.5 2961.0L2289.0 2969.9L2289.5 2962.8L2290.0 2971.2L2290.5 2962.3L2291.0 2970.7L2291.5 2963.5L2292.0 2975.1L2292.5 2962.5L2293.0 2972.0L2293.5 2963.1L2294.0 2972.0L2294.5 2961.4L2295.0 2973.0L2295.5 2962.0L2296.0 2969.5L2296.5 2963.7L2297.0 2974.3L2297.5 2961.4L2298.0 2973.0L2298.5 2966.6L2299.0 2973.9L2299.5 2965.4L2300.0 2970.9L2300.5 2965.4L2301.0 2976.5L2301.5 2961.0L2302.0 2975.9L2302.5 2963.8L2303.0 2977.6L2303.5 2963.4L2304.0 2973.7L2304.5 2964.1L2305.0 2976.8L2305.5 2962.3L2306.0 2976.7L2306.5 2963.1L2307.0 2975.6L2307.5 2962.9L2308.0 2971.6L2308.5 2962.8L2309.0 2975.7L2309.5 2964.4L2310.0 2974.4L2310.5 2963.4L2311.0 2976.5L2311.5 2963.4L2312.0 2973.5L2312.5 2963.9L2313.0 2971.2L2313.5 2963.7L2314.0 2973.5L2314.5 2963.9L2315.0 2973.8L2315.5 2962.7L2316.0 2973.6L2316.5 2962.7L2317.0 2973.6L2317.5 2962.8L2318.0 2972.7L2318.5 2962.6L2319.0 2977.5L2319.5 2961.7L2320.0 2971.1L2320.5 2961.7L2321.0 2972.6L2321.5 2961.6L2322.0 2975.2L2322.5 2963.6L2323.0 2974.1L2323.5 2962.2L2324.0 2973.2L2324.5 2962.8L2325.0 2974.9L2325.5 2962.2L2326.0 2974.5L2326.5 2965.9L2327.0 2973.3L2327.5 2963.5L2328.0 2975.9L2328.5 2962.9L2329.0 2974.4L2329.5 2961.0L2330.0 2974.0L2330.5 2962.4L2331.0 2974.0L2331.5 2964.1L2332.0 2975.4L2332.5 2961.4L2333.0 2974.0L2333.5 2964.6L2334.0 2975.4L2334.5 2961.3L2335.0 2974.1L2335.5 2959.6L2336.0 2973.4L2336.5 2966.3L2337.0 2969.5L2337.5 2964.1L2338.0 2971.3L2338.5 2957.4L2339.0 2971.5L2339.5 2962.8L2340.0 2972.3L2340.5 2964.6L2341.0 2972.4L2341.5 2963.2L2342.0 2974.2L2342.5 2963.2L2343.0 2975.0L2343.5 2967.6L2344.0 2972.8L2344.5 2963.6L2345.0 2974.0L2345.5 2965.0L2346.0 2975.6L2346.5 2957.0L2347.0 2973.9L2347.5 2963.8L2348.0 2974.5L2348.5 2965.2L2349.0 2975.6L2349.5 2964.4L2350.0 2971.4L2350.5 2965.9L2351.0 2973.3L2351.5 2960.0L2352.0 2975.1L2352.5 2967.1L2353.0 2980.9L2353.5 2963.6L2354.0 2972.1L2354.5 2965.0L2355.0 2975.6L2355.5 2965.8L2356.0 2972.1L2356.5 2965.2L2357.0 2977.3L2357.5 2966.9L2358.0 2975.5L2358.5 2965.2L2359.0 2974.4L2359.5 2965.6L2360.0 2974.1L2360.5 2963.6L2361.0 2975.3L2361.5 2966.6L2362.0 2977.7L2362.5 2967.4L2363.0 2976.2L2363.5 2965.7L2364.0 2976.8L2364.5 2965.3L2365.0 2976.7L2365.5 2965.6L2366.0 2976.0L2366.5 2964.7L2367.0 2977.2L2367.5 2965.8L2368.0 2976.0L2368.5 2958.5L2369.0 2975.1L2369.5 2966.5L2370.0 2975.5L2370.5 2967.7L2371.0 2973.6L2371.5 2964.0L2372.0 2973.7L2372.5 2960.2L2373.0 2975.1L2373.5 2964.5L2374.0 2975.9L2374.5 2964.7L2375.0 2975.9L2375.5 2965.8L2376.0 2975.8L2376.5 2964.1L2377.0 2977.3L2377.5 2958.3L2378.0 2976.0L2378.5 2965.3L2379.0 2973.0L2379.5 2964.2L2380.0 2977.1L2380.5 2966.0L2381.0 2977.2L2381.5 2964.2L2382.0 2976.4L2382.5 2964.9L2383.0 2977.1L2383.5 2969.1L2384.0 2976.9L2384.5 2967.6L2385.0 2978.8L2385.5 2967.0L2386.0 2977.2L2386.5 2967.4L2387.0 2978.0L2387.5 2966.1L2388.0 2979.6L2388.5 2965.8L2389.0 2979.1L2389.5 2967.2L2390.0 2979.8L2390.5 2964.3L2391.0 2982.2L2391.5 2972.1L2392.0 2979.8L2392.5 2967.9L2393.0 2980.8L2393.5 2969.9L2394.0 2979.9L2394.5 2967.4L2395.0 2979.7L2395.5 2971.8L2396.0 2984.8L2396.5 2971.3L2397.0 2981.9L2397.5 2971.2L2398.0 2983.9L2398.5 2970.1L2399.0 2979.1L2399.5 2971.8" fill="none" stroke="#000" stroke-width="4.4" stroke-linejoin="bevel"/>
<g stroke="#000" fill="none">
<rect x="396.4" y="1742.4" width="2004.1" height="1286.2999999999997" stroke-width="6.6"/>
<g stroke-width="6">
<line x1="373.5" y1="3028.7" x2="396.4" y2="3028.7"/>
<line x1="379" y1="2867.9" x2="396.4" y2="2867.9" stroke-width="5.4"/>
<line x1="373.5" y1="2707.1" x2="396.4" y2="2707.1"/>
<line x1="379" y1="2546.3" x2="396.4" y2="2546.3" stroke-width="5.4"/>
<line x1="373.5" y1="2385.6" x2="396.4" y2="2385.6"/>
<line x1="379" y1="2224.8" x2="396.4" y2="2224.8" stroke-width="5.4"/>
<line x1="373.5" y1="2064.0" x2="396.4" y2="2064.0"/>
<line x1="379" y1="1903.2" x2="396.4" y2="1903.2" stroke-width="5.4"/>
<line x1="373.5" y1="1742.4" x2="396.4" y2="1742.4"/>
<line x1="396.4" y1="3028.7" x2="396.4" y2="3046.5"/>
<line x1="446.5" y1="3028.7" x2="446.5" y2="3041.5" stroke-width="5.2"/>
<line x1="496.6" y1="3028.7" x2="496.6" y2="3041.5" stroke-width="5.2"/>
<line x1="546.7" y1="3028.7" x2="546.7" y2="3041.5" stroke-width="5.2"/>
<line x1="596.8" y1="3028.7" x2="596.8" y2="3041.5" stroke-width="5.2"/>
<line x1="646.9" y1="3028.7" x2="646.9" y2="3046.5"/>
<line x1="697.0" y1="3028.7" x2="697.0" y2="3041.5" stroke-width="5.2"/>
<line x1="747.1" y1="3028.7" x2="747.1" y2="3041.5" stroke-width="5.2"/>
<line x1="797.2" y1="3028.7" x2="797.2" y2="3041.5" stroke-width="5.2"/>
<line x1="847.3" y1="3028.7" x2="847.3" y2="3041.5" stroke-width="5.2"/>
<line x1="897.4" y1="3028.7" x2="897.4" y2="3046.5"/>
<line x1="947.5" y1="3028.7" x2="947.5" y2="3041.5" stroke-width="5.2"/>
<line x1="997.6" y1="3028.7" x2="997.6" y2="3041.5" stroke-width="5.2"/>
<line x1="1047.7" y1="3028.7" x2="1047.7" y2="3041.5" stroke-width="5.2"/>
<line x1="1097.8" y1="3028.7" x2="1097.8" y2="3041.5" stroke-width="5.2"/>
<line x1="1147.9" y1="3028.7" x2="1147.9" y2="3046.5"/>
<line x1="1198.0" y1="3028.7" x2="1198.0" y2="3041.5" stroke-width="5.2"/>
<line x1="1248.1" y1="3028.7" x2="1248.1" y2="3041.5" stroke-width="5.2"/>
<line x1="1298.2" y1="3028.7" x2="1298.2" y2="3041.5" stroke-width="5.2"/>
<line x1="1348.3" y1="3028.7" x2="1348.3" y2="3041.5" stroke-width="5.2"/>
<line x1="1398.4" y1="3028.7" x2="1398.4" y2="3046.5"/>
<line x1="1448.6" y1="3028.7" x2="1448.6" y2="3041.5" stroke-width="5.2"/>
<line x1="1498.7" y1="3028.7" x2="1498.7" y2="3041.5" stroke-width="5.2"/>
<line x1="1548.8" y1="3028.7" x2="1548.8" y2="3041.5" stroke-width="5.2"/>
<line x1="1598.9" y1="3028.7" x2="1598.9" y2="3041.5" stroke-width="5.2"/>
<line x1="1649.0" y1="3028.7" x2="1649.0" y2="3046.5"/>
<line x1="1699.1" y1="3028.7" x2="1699.1" y2="3041.5" stroke-width="5.2"/>
<line x1="1749.2" y1="3028.7" x2="1749.2" y2="3041.5" stroke-width="5.2"/>
<line x1="1799.3" y1="3028.7" x2="1799.3" y2="3041.5" stroke-width="5.2"/>
<line x1="1849.4" y1="3028.7" x2="1849.4" y2="3041.5" stroke-width="5.2"/>
<line x1="1899.5" y1="3028.7" x2="1899.5" y2="3046.5"/>
<line x1="1949.6" y1="3028.7" x2="1949.6" y2="3041.5" stroke-width="5.2"/>
<line x1="1999.7" y1="3028.7" x2="1999.7" y2="3041.5" stroke-width="5.2"/>
<line x1="2049.8" y1="3028.7" x2="2049.8" y2="3041.5" stroke-width="5.2"/>
<line x1="2099.9" y1="3028.7" x2="2099.9" y2="3041.5" stroke-width="5.2"/>
<line x1="2150.0" y1="3028.7" x2="2150.0" y2="3046.5"/>
<line x1="2200.1" y1="3028.7" x2="2200.1" y2="3041.5" stroke-width="5.2"/>
<line x1="2250.2" y1="3028.7" x2="2250.2" y2="3041.5" stroke-width="5.2"/>
<line x1="2300.3" y1="3028.7" x2="2300.3" y2="3041.5" stroke-width="5.2"/>
<line x1="2350.4" y1="3028.7" x2="2350.4" y2="3041.5" stroke-width="5.2"/>
<line x1="2400.5" y1="3028.7" x2="2400.5" y2="3046.5"/>
</g></g>
<text class="k" x="22.5" y="1719.8" font-size="102" text-anchor="start" textLength="134.8" lengthAdjust="spacingAndGlyphs">(b)</text>
<text class="g" x="338.5" y="3052.1" font-size="69.5" text-anchor="end" textLength="38.1" lengthAdjust="spacingAndGlyphs">0</text>
<text class="g" x="338.5" y="2730.525" font-size="69.5" text-anchor="end" textLength="152.3" lengthAdjust="spacingAndGlyphs">1000</text>
<text class="g" x="338.5" y="2408.9500000000003" font-size="69.5" text-anchor="end" textLength="152.3" lengthAdjust="spacingAndGlyphs">2000</text>
<text class="g" x="338.5" y="2087.375" font-size="69.5" text-anchor="end" textLength="152.3" lengthAdjust="spacingAndGlyphs">3000</text>
<text class="g" x="338.5" y="1765.8000000000002" font-size="69.5" text-anchor="end" textLength="152.3" lengthAdjust="spacingAndGlyphs">4000</text>
<text class="d" x="395.9" y="3131.5" font-size="68" text-anchor="middle">10</text>
<text class="d" x="646.4124999999999" y="3131.5" font-size="68" text-anchor="middle">20</text>
<text class="d" x="896.925" y="3131.5" font-size="68" text-anchor="middle">30</text>
<text class="d" x="1147.4375" y="3131.5" font-size="68" text-anchor="middle">40</text>
<text class="d" x="1397.9499999999998" y="3131.5" font-size="68" text-anchor="middle">50</text>
<text class="d" x="1648.4625" y="3131.5" font-size="68" text-anchor="middle">60</text>
<text class="d" x="1898.975" y="3131.5" font-size="68" text-anchor="middle">70</text>
<text class="d" x="2149.4874999999997" y="3131.5" font-size="68" text-anchor="middle">80</text>
<text class="d" x="2400.0" y="3131.5" font-size="68" text-anchor="middle">90</text>
<text class="k" font-size="67" text-anchor="middle" transform="translate(152.8 2385) rotate(-90)" textLength="445" lengthAdjust="spacingAndGlyphs">Intensity (a.u)</text>
<text class="k" x="1399.3" y="3224" font-size="67.5" text-anchor="middle" textLength="187.2" lengthAdjust="spacingAndGlyphs">2 θ (°)</text>
</g>
</svg>
</body>
</html>
